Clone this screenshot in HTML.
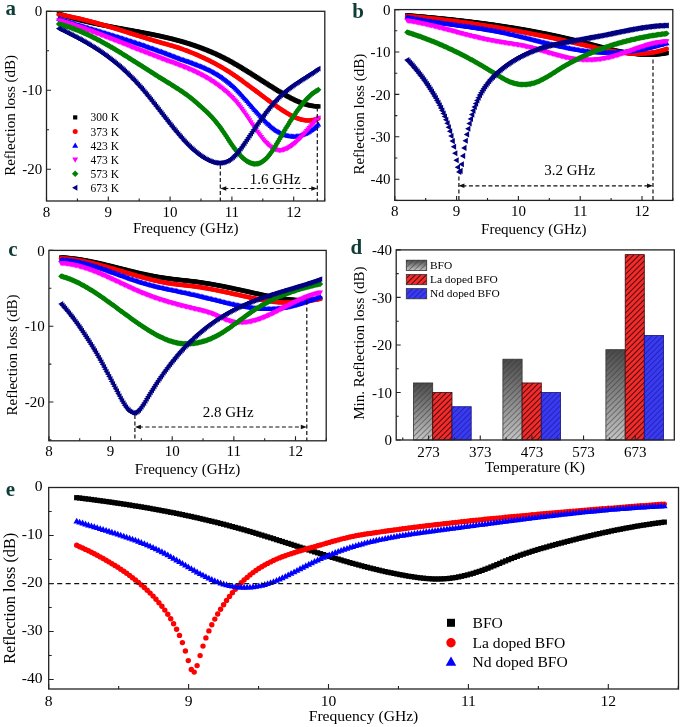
<!DOCTYPE html>
<html><head><meta charset="utf-8"><style>
html,body{margin:0;padding:0;background:#fff;}
svg{display:block;font-family:"Liberation Serif",serif;will-change:transform;}
</style></head><body>
<svg width="685" height="727" viewBox="0 0 685 727">
<defs><marker id="m_k" markerUnits="userSpaceOnUse" markerWidth="20" markerHeight="20" refX="10" refY="10" orient="0" overflow="visible"><rect x="7.85" y="7.85" width="4.30" height="4.30" fill="#000000"/></marker><marker id="m_r" markerUnits="userSpaceOnUse" markerWidth="20" markerHeight="20" refX="10" refY="10" orient="0" overflow="visible"><circle cx="10.00" cy="10.00" r="2.35" fill="#ff0000"/></marker><marker id="m_b" markerUnits="userSpaceOnUse" markerWidth="20" markerHeight="20" refX="10" refY="10" orient="0" overflow="visible"><path d="M10.00,7.07L12.80,12.04L7.20,12.04Z" fill="#0000ff"/></marker><marker id="m_m" markerUnits="userSpaceOnUse" markerWidth="20" markerHeight="20" refX="10" refY="10" orient="0" overflow="visible"><path d="M10.00,12.93L12.80,7.96L7.20,7.96Z" fill="#ff00ff"/></marker><marker id="m_g" markerUnits="userSpaceOnUse" markerWidth="20" markerHeight="20" refX="10" refY="10" orient="0" overflow="visible"><path d="M10.00,7.00L13.00,10.00L10.00,13.00L7.00,10.00Z" fill="#008000"/></marker><marker id="m_n" markerUnits="userSpaceOnUse" markerWidth="20" markerHeight="20" refX="10" refY="10" orient="0" overflow="visible"><path d="M7.01,10.00L12.08,7.14L12.08,12.86Z" fill="#000080"/></marker><marker id="mb_n" markerUnits="userSpaceOnUse" markerWidth="20" markerHeight="20" refX="10" refY="10" orient="0" overflow="visible"><path d="M6.84,10.00L12.20,6.97L12.20,13.03Z" fill="#000080"/></marker><marker id="e_k" markerUnits="userSpaceOnUse" markerWidth="20" markerHeight="20" refX="10" refY="10" orient="0" overflow="visible"><rect x="7.40" y="7.40" width="5.20" height="5.20" fill="#000"/></marker><marker id="e_r" markerUnits="userSpaceOnUse" markerWidth="20" markerHeight="20" refX="10" refY="10" orient="0" overflow="visible"><circle cx="10.00" cy="10.00" r="2.70" fill="#ff0000"/></marker><marker id="e_b" markerUnits="userSpaceOnUse" markerWidth="20" markerHeight="20" refX="10" refY="10" orient="0" overflow="visible"><path d="M10.00,6.55L13.30,12.40L6.70,12.40Z" fill="#0000ff"/></marker><linearGradient id="gg" x1="0" y1="0" x2="0" y2="1"><stop offset="0" stop-color="#4a4a4a"/><stop offset="1" stop-color="#c4c4c4"/></linearGradient><pattern id="hk" patternUnits="userSpaceOnUse" width="3.9" height="3.9" patternTransform="rotate(45)"><rect width="0.95" height="3.9" fill="#000" fill-opacity="0.72"/></pattern><pattern id="hg" patternUnits="userSpaceOnUse" width="3.9" height="3.9" patternTransform="rotate(45)"><rect width="0.9" height="3.9" fill="#333" fill-opacity="0.55"/></pattern><pattern id="hb" patternUnits="userSpaceOnUse" width="3.9" height="3.9" patternTransform="rotate(45)"><rect width="0.9" height="3.9" fill="#101080" fill-opacity="0.6"/></pattern></defs>
<rect width="685" height="727" fill="#fff"/>
<polyline points="58.9,13.8 60.2,14.2 61.5,14.7 62.8,15.1 64.1,15.5 65.3,15.9 66.6,16.3 67.9,16.7 69.2,17.1 70.5,17.5 71.8,17.8 73.1,18.2 74.4,18.6 75.7,18.9 77.0,19.3 78.3,19.6 79.6,19.9 80.9,20.3 82.2,20.6 83.5,20.9 84.8,21.2 86.1,21.5 87.4,21.8 88.7,22.1 90.0,22.4 91.3,22.7 92.6,23.0 93.9,23.3 95.2,23.6 96.5,23.8 97.8,24.1 99.1,24.4 100.4,24.7 101.7,24.9 103.0,25.2 104.3,25.4 105.6,25.7 106.9,25.9 108.2,26.2 109.5,26.4 110.8,26.7 112.1,26.9 113.4,27.2 114.7,27.4 116.0,27.7 117.3,27.9 118.6,28.1 119.9,28.4 121.2,28.6 122.5,28.8 123.8,29.1 125.0,29.3 126.3,29.6 127.6,29.8 128.9,30.0 130.2,30.3 131.5,30.5 132.8,30.7 134.1,31.0 135.4,31.2 136.7,31.4 138.0,31.7 139.3,31.9 140.6,32.2 141.9,32.4 143.2,32.7 144.5,32.9 145.8,33.2 147.1,33.4 148.4,33.7 149.7,33.9 151.0,34.2 152.3,34.4 153.6,34.7 154.9,35.0 156.2,35.3 157.5,35.5 158.8,35.8 160.1,36.1 161.4,36.4 162.7,36.7 164.0,37.0 165.3,37.3 166.6,37.6 167.9,37.9 169.2,38.2 170.5,38.5 171.8,38.8 173.1,39.2 174.4,39.5 175.7,39.9 177.0,40.2 178.3,40.6 179.6,40.9 180.9,41.3 182.2,41.6 183.4,42.0 184.7,42.4 186.0,42.8 187.3,43.2 188.6,43.6 189.9,44.0 191.2,44.4 192.5,44.9 193.8,45.3 195.1,45.7 196.4,46.2 197.7,46.7 199.0,47.1 200.3,47.6 201.6,48.1 202.9,48.6 204.2,49.1 205.5,49.6 206.8,50.1 208.1,50.6 209.4,51.2 210.7,51.7 212.0,52.3 213.3,52.9 214.6,53.4 215.9,54.0 217.2,54.6 218.5,55.2 219.8,55.9 221.1,56.5 222.4,57.1 223.7,57.8 225.0,58.5 226.3,59.1 227.6,59.8 228.9,60.5 230.2,61.2 231.5,61.9 232.8,62.7 234.1,63.4 235.4,64.2 236.7,64.9 238.0,65.7 239.3,66.4 240.6,67.2 241.8,68.0 243.1,68.8 244.4,69.6 245.7,70.4 247.0,71.2 248.3,72.0 249.6,72.8 250.9,73.6 252.2,74.4 253.5,75.3 254.8,76.1 256.1,76.9 257.4,77.7 258.7,78.6 260.0,79.4 261.3,80.2 262.6,81.1 263.9,81.9 265.2,82.7 266.5,83.5 267.8,84.4 269.1,85.2 270.4,86.0 271.7,86.8 273.0,87.6 274.3,88.4 275.6,89.3 276.9,90.1 278.2,90.9 279.5,91.6 280.8,92.4 282.1,93.2 283.4,94.0 284.7,94.7 286.0,95.5 287.3,96.2 288.6,96.9 289.9,97.6 291.2,98.3 292.5,98.9 293.8,99.6 295.1,100.2 296.4,100.8 297.7,101.4 299.0,101.9 300.3,102.5 301.5,102.9 302.8,103.4 304.1,103.9 305.4,104.3 306.7,104.6 308.0,105.0 309.3,105.3 310.6,105.6 311.9,105.8 313.2,106.0 314.5,106.2 315.8,106.3 317.1,106.4 318.4,106.4" fill="none" stroke="none" marker-start="url(#m_k)" marker-mid="url(#m_k)" marker-end="url(#m_k)"/>
<polyline points="58.9,14.6 60.2,14.8 61.5,15.0 62.8,15.2 64.1,15.5 65.3,15.7 66.6,16.0 67.9,16.2 69.2,16.5 70.5,16.7 71.8,17.0 73.1,17.3 74.4,17.5 75.7,17.8 77.0,18.1 78.3,18.4 79.6,18.7 80.9,19.0 82.2,19.3 83.5,19.6 84.8,20.0 86.1,20.3 87.4,20.6 88.7,21.0 90.0,21.3 91.3,21.6 92.6,22.0 93.9,22.3 95.2,22.7 96.5,23.1 97.8,23.4 99.1,23.8 100.4,24.2 101.7,24.5 103.0,24.9 104.3,25.3 105.6,25.7 106.9,26.0 108.2,26.4 109.5,26.8 110.8,27.2 112.1,27.6 113.4,28.0 114.7,28.4 116.0,28.8 117.3,29.2 118.6,29.6 119.9,30.0 121.2,30.4 122.5,30.8 123.8,31.2 125.0,31.6 126.3,32.0 127.6,32.4 128.9,32.8 130.2,33.3 131.5,33.7 132.8,34.1 134.1,34.5 135.4,34.9 136.7,35.3 138.0,35.7 139.3,36.1 140.6,36.5 141.9,36.9 143.2,37.3 144.5,37.7 145.8,38.1 147.1,38.5 148.4,38.9 149.7,39.3 151.0,39.7 152.3,40.1 153.6,40.5 154.9,40.9 156.2,41.3 157.5,41.6 158.8,42.0 160.1,42.4 161.4,42.8 162.7,43.1 164.0,43.5 165.3,43.9 166.6,44.2 167.9,44.6 169.2,45.0 170.5,45.4 171.8,45.7 173.1,46.1 174.4,46.5 175.7,46.9 177.0,47.3 178.3,47.7 179.6,48.2 180.9,48.6 182.2,49.0 183.4,49.5 184.7,50.0 186.0,50.4 187.3,50.9 188.6,51.4 189.9,52.0 191.2,52.5 192.5,53.0 193.8,53.5 195.1,54.1 196.4,54.7 197.7,55.2 199.0,55.8 200.3,56.4 201.6,57.0 202.9,57.6 204.2,58.2 205.5,58.8 206.8,59.4 208.1,60.0 209.4,60.7 210.7,61.3 212.0,62.0 213.3,62.7 214.6,63.3 215.9,64.0 217.2,64.8 218.5,65.5 219.8,66.2 221.1,67.0 222.4,67.7 223.7,68.5 225.0,69.3 226.3,70.1 227.6,70.9 228.9,71.7 230.2,72.6 231.5,73.4 232.8,74.3 234.1,75.2 235.4,76.0 236.7,76.9 238.0,77.8 239.3,78.8 240.6,79.7 241.8,80.6 243.1,81.6 244.4,82.5 245.7,83.5 247.0,84.4 248.3,85.4 249.6,86.3 250.9,87.3 252.2,88.3 253.5,89.2 254.8,90.2 256.1,91.2 257.4,92.2 258.7,93.1 260.0,94.1 261.3,95.1 262.6,96.1 263.9,97.0 265.2,98.0 266.5,99.0 267.8,99.9 269.1,100.9 270.4,101.8 271.7,102.8 273.0,103.7 274.3,104.7 275.6,105.6 276.9,106.5 278.2,107.4 279.5,108.3 280.8,109.2 282.1,110.1 283.4,110.9 284.7,111.7 286.0,112.6 287.3,113.3 288.6,114.1 289.9,114.8 291.2,115.5 292.5,116.2 293.8,116.8 295.1,117.4 296.4,117.9 297.7,118.4 299.0,118.9 300.3,119.3 301.5,119.6 302.8,119.9 304.1,120.1 305.4,120.3 306.7,120.4 308.0,120.5 309.3,120.5 310.6,120.4 311.9,120.2 313.2,120.0 314.5,119.7 315.8,119.4 317.1,118.9 318.4,118.4" fill="none" stroke="none" marker-start="url(#m_r)" marker-mid="url(#m_r)" marker-end="url(#m_r)"/>
<polyline points="58.9,18.8 60.2,19.2 61.5,19.6 62.8,20.0 64.1,20.5 65.3,20.9 66.6,21.3 67.9,21.7 69.2,22.1 70.5,22.5 71.8,22.9 73.1,23.3 74.4,23.8 75.7,24.2 77.0,24.6 78.3,25.0 79.6,25.4 80.9,25.8 82.2,26.2 83.5,26.6 84.8,27.0 86.1,27.4 87.4,27.8 88.7,28.2 90.0,28.6 91.3,29.0 92.6,29.4 93.9,29.8 95.2,30.1 96.5,30.5 97.8,30.9 99.1,31.3 100.4,31.7 101.7,32.1 103.0,32.5 104.3,32.9 105.6,33.3 106.9,33.7 108.2,34.1 109.5,34.5 110.8,34.9 112.1,35.3 113.4,35.7 114.7,36.1 116.0,36.5 117.3,36.9 118.6,37.3 119.9,37.7 121.2,38.1 122.5,38.5 123.8,39.0 125.0,39.4 126.3,39.8 127.6,40.2 128.9,40.6 130.2,41.0 131.5,41.5 132.8,41.9 134.1,42.3 135.4,42.7 136.7,43.2 138.0,43.6 139.3,44.0 140.6,44.5 141.9,44.9 143.2,45.3 144.5,45.8 145.8,46.2 147.1,46.7 148.4,47.1 149.7,47.6 151.0,48.1 152.3,48.5 153.6,49.0 154.9,49.4 156.2,49.9 157.5,50.4 158.8,50.9 160.1,51.4 161.4,51.8 162.7,52.3 164.0,52.8 165.3,53.3 166.6,53.8 167.9,54.3 169.2,54.8 170.5,55.3 171.8,55.8 173.1,56.3 174.4,56.7 175.7,57.2 177.0,57.7 178.3,58.2 179.6,58.6 180.9,59.1 182.2,59.6 183.4,60.0 184.7,60.5 186.0,60.9 187.3,61.4 188.6,61.8 189.9,62.3 191.2,62.8 192.5,63.2 193.8,63.7 195.1,64.2 196.4,64.6 197.7,65.1 199.0,65.6 200.3,66.2 201.6,66.7 202.9,67.2 204.2,67.8 205.5,68.4 206.8,68.9 208.1,69.6 209.4,70.2 210.7,70.8 212.0,71.5 213.3,72.2 214.6,72.9 215.9,73.6 217.2,74.4 218.5,75.2 219.8,76.0 221.1,76.9 222.4,77.7 223.7,78.7 225.0,79.6 226.3,80.6 227.6,81.6 228.9,82.6 230.2,83.7 231.5,84.9 232.8,86.0 234.1,87.2 235.4,88.5 236.7,89.7 238.0,91.1 239.3,92.4 240.6,93.8 241.8,95.2 243.1,96.6 244.4,98.1 245.7,99.5 247.0,101.0 248.3,102.5 249.6,103.9 250.9,105.4 252.2,106.9 253.5,108.4 254.8,109.9 256.1,111.4 257.4,112.8 258.7,114.2 260.0,115.7 261.3,117.1 262.6,118.4 263.9,119.8 265.2,121.1 266.5,122.4 267.8,123.6 269.1,124.8 270.4,126.0 271.7,127.1 273.0,128.1 274.3,129.1 275.6,130.1 276.9,130.9 278.2,131.8 279.5,132.5 280.8,133.2 282.1,133.8 283.4,134.4 284.7,134.9 286.0,135.3 287.3,135.6 288.6,135.9 289.9,136.2 291.2,136.3 292.5,136.4 293.8,136.5 295.1,136.4 296.4,136.3 297.7,136.1 299.0,135.9 300.3,135.6 301.5,135.2 302.8,134.8 304.1,134.3 305.4,133.7 306.7,133.1 308.0,132.4 309.3,131.6 310.6,130.8 311.9,129.9 313.2,128.9 314.5,127.9 315.8,126.8 317.1,125.6 318.4,124.4" fill="none" stroke="none" marker-start="url(#m_b)" marker-mid="url(#m_b)" marker-end="url(#m_b)"/>
<polyline points="58.9,20.4 60.2,20.8 61.5,21.2 62.8,21.6 64.1,22.0 65.3,22.4 66.6,22.8 67.9,23.2 69.2,23.6 70.5,24.0 71.8,24.4 73.1,24.8 74.4,25.2 75.7,25.7 77.0,26.1 78.3,26.5 79.6,27.0 80.9,27.4 82.2,27.9 83.5,28.3 84.8,28.8 86.1,29.3 87.4,29.7 88.7,30.2 90.0,30.6 91.3,31.1 92.6,31.6 93.9,32.1 95.2,32.6 96.5,33.0 97.8,33.5 99.1,34.0 100.4,34.5 101.7,35.0 103.0,35.5 104.3,36.0 105.6,36.5 106.9,37.0 108.2,37.5 109.5,38.0 110.8,38.5 112.1,39.0 113.4,39.5 114.7,40.0 116.0,40.5 117.3,41.0 118.6,41.5 119.9,42.0 121.2,42.6 122.5,43.1 123.8,43.6 125.0,44.1 126.3,44.6 127.6,45.1 128.9,45.6 130.2,46.2 131.5,46.7 132.8,47.2 134.1,47.7 135.4,48.2 136.7,48.7 138.0,49.2 139.3,49.8 140.6,50.3 141.9,50.8 143.2,51.3 144.5,51.8 145.8,52.3 147.1,52.8 148.4,53.3 149.7,53.8 151.0,54.3 152.3,54.8 153.6,55.3 154.9,55.8 156.2,56.3 157.5,56.8 158.8,57.3 160.1,57.8 161.4,58.3 162.7,58.8 164.0,59.3 165.3,59.7 166.6,60.2 167.9,60.7 169.2,61.2 170.5,61.6 171.8,62.1 173.1,62.6 174.4,63.1 175.7,63.6 177.0,64.1 178.3,64.5 179.6,65.0 180.9,65.5 182.2,66.0 183.4,66.6 184.7,67.1 186.0,67.6 187.3,68.1 188.6,68.7 189.9,69.3 191.2,69.8 192.5,70.4 193.8,71.0 195.1,71.6 196.4,72.2 197.7,72.9 199.0,73.5 200.3,74.2 201.6,74.9 202.9,75.6 204.2,76.3 205.5,77.0 206.8,77.8 208.1,78.5 209.4,79.3 210.7,80.2 212.0,81.0 213.3,81.9 214.6,82.7 215.9,83.7 217.2,84.6 218.5,85.6 219.8,86.5 221.1,87.6 222.4,88.6 223.7,89.7 225.0,90.8 226.3,91.9 227.6,93.1 228.9,94.3 230.2,95.5 231.5,96.8 232.8,98.1 234.1,99.5 235.4,100.9 236.7,102.4 238.0,104.0 239.3,105.6 240.6,107.2 241.8,109.0 243.1,110.8 244.4,112.6 245.7,114.5 247.0,116.4 248.3,118.3 249.6,120.3 250.9,122.2 252.2,124.2 253.5,126.1 254.8,128.0 256.1,129.9 257.4,131.8 258.7,133.6 260.0,135.4 261.3,137.1 262.6,138.7 263.9,140.3 265.2,141.7 266.5,143.1 267.8,144.4 269.1,145.6 270.4,146.6 271.7,147.5 273.0,148.3 274.3,149.0 275.6,149.5 276.9,149.9 278.2,150.1 279.5,150.2 280.8,150.2 282.1,150.0 283.4,149.8 284.7,149.4 286.0,148.9 287.3,148.3 288.6,147.6 289.9,146.8 291.2,146.0 292.5,145.1 293.8,144.0 295.1,143.0 296.4,141.8 297.7,140.6 299.0,139.4 300.3,138.1 301.5,136.7 302.8,135.3 304.1,133.9 305.4,132.5 306.7,131.0 308.0,129.5 309.3,128.0 310.6,126.5 311.9,125.0 313.2,123.5 314.5,122.0 315.8,120.5 317.1,119.1 318.4,117.7" fill="none" stroke="none" marker-start="url(#m_m)" marker-mid="url(#m_m)" marker-end="url(#m_m)"/>
<polyline points="58.9,24.1 60.2,24.4 61.5,24.7 62.8,25.1 64.1,25.5 65.3,25.9 66.6,26.3 67.9,26.7 69.2,27.1 70.5,27.6 71.8,28.0 73.1,28.5 74.4,29.0 75.7,29.5 77.0,30.0 78.3,30.5 79.6,31.0 80.9,31.6 82.2,32.2 83.5,32.7 84.8,33.3 86.1,33.9 87.4,34.5 88.7,35.1 90.0,35.7 91.3,36.4 92.6,37.0 93.9,37.7 95.2,38.3 96.5,39.0 97.8,39.7 99.1,40.3 100.4,41.0 101.7,41.7 103.0,42.4 104.3,43.2 105.6,43.9 106.9,44.6 108.2,45.4 109.5,46.1 110.8,46.9 112.1,47.6 113.4,48.4 114.7,49.1 116.0,49.9 117.3,50.7 118.6,51.5 119.9,52.3 121.2,53.1 122.5,53.9 123.8,54.7 125.0,55.5 126.3,56.3 127.6,57.1 128.9,57.9 130.2,58.7 131.5,59.5 132.8,60.4 134.1,61.2 135.4,62.0 136.7,62.8 138.0,63.7 139.3,64.5 140.6,65.3 141.9,66.1 143.2,67.0 144.5,67.8 145.8,68.6 147.1,69.5 148.4,70.3 149.7,71.1 151.0,72.0 152.3,72.8 153.6,73.6 154.9,74.4 156.2,75.3 157.5,76.1 158.8,76.9 160.1,77.7 161.4,78.5 162.7,79.3 164.0,80.1 165.3,80.9 166.6,81.7 167.9,82.5 169.2,83.3 170.5,84.1 171.8,84.9 173.1,85.7 174.4,86.5 175.7,87.4 177.0,88.2 178.3,89.0 179.6,89.9 180.9,90.7 182.2,91.6 183.4,92.5 184.7,93.4 186.0,94.3 187.3,95.3 188.6,96.2 189.9,97.2 191.2,98.3 192.5,99.3 193.8,100.4 195.1,101.5 196.4,102.6 197.7,103.8 199.0,104.9 200.3,106.1 201.6,107.2 202.9,108.4 204.2,109.6 205.5,110.8 206.8,112.0 208.1,113.3 209.4,114.5 210.7,115.9 212.0,117.3 213.3,118.7 214.6,120.2 215.9,121.7 217.2,123.4 218.5,125.0 219.8,126.8 221.1,128.6 222.4,130.4 223.7,132.3 225.0,134.3 226.3,136.3 227.6,138.3 228.9,140.3 230.2,142.3 231.5,144.2 232.8,146.1 234.1,147.9 235.4,149.6 236.7,151.3 238.0,152.8 239.3,154.3 240.6,155.7 241.8,157.0 243.1,158.2 244.4,159.3 245.7,160.3 247.0,161.2 248.3,162.0 249.6,162.6 250.9,163.1 252.2,163.5 253.5,163.8 254.8,163.9 256.1,163.8 257.4,163.7 258.7,163.4 260.0,162.9 261.3,162.3 262.6,161.5 263.9,160.6 265.2,159.5 266.5,158.2 267.8,156.8 269.1,155.2 270.4,153.5 271.7,151.7 273.0,149.8 274.3,147.8 275.6,145.7 276.9,143.5 278.2,141.3 279.5,139.1 280.8,136.9 282.1,134.7 283.4,132.5 284.7,130.3 286.0,128.1 287.3,126.0 288.6,123.9 289.9,121.8 291.2,119.8 292.5,117.8 293.8,115.8 295.1,113.9 296.4,112.0 297.7,110.2 299.0,108.4 300.3,106.7 301.5,105.1 302.8,103.5 304.1,101.9 305.4,100.4 306.7,99.0 308.0,97.7 309.3,96.4 310.6,95.2 311.9,94.1 313.2,93.1 314.5,92.2 315.8,91.3 317.1,90.5 318.4,89.8" fill="none" stroke="none" marker-start="url(#m_g)" marker-mid="url(#m_g)" marker-end="url(#m_g)"/>
<polyline points="58.9,28.6 60.2,29.3 61.5,29.9 62.8,30.5 64.1,31.2 65.3,31.8 66.6,32.5 67.9,33.1 69.2,33.8 70.5,34.4 71.8,35.1 73.1,35.8 74.4,36.5 75.7,37.1 77.0,37.8 78.3,38.5 79.6,39.2 80.9,39.9 82.2,40.7 83.5,41.4 84.8,42.1 86.1,42.9 87.4,43.6 88.7,44.4 90.0,45.2 91.3,46.0 92.6,46.8 93.9,47.6 95.2,48.4 96.5,49.2 97.8,50.1 99.1,50.9 100.4,51.8 101.7,52.7 103.0,53.6 104.3,54.5 105.6,55.4 106.9,56.3 108.2,57.3 109.5,58.3 110.8,59.3 112.1,60.3 113.4,61.3 114.7,62.3 116.0,63.4 117.3,64.5 118.6,65.6 119.9,66.7 121.2,67.8 122.5,68.9 123.8,70.1 125.0,71.3 126.3,72.5 127.6,73.7 128.9,75.0 130.2,76.3 131.5,77.6 132.8,78.9 134.1,80.2 135.4,81.6 136.7,83.0 138.0,84.4 139.3,85.8 140.6,87.3 141.9,88.7 143.2,90.2 144.5,91.8 145.8,93.3 147.1,94.9 148.4,96.5 149.7,98.1 151.0,99.7 152.3,101.3 153.6,103.0 154.9,104.6 156.2,106.3 157.5,107.9 158.8,109.6 160.1,111.3 161.4,112.9 162.7,114.6 164.0,116.3 165.3,117.9 166.6,119.6 167.9,121.3 169.2,122.9 170.5,124.5 171.8,126.2 173.1,127.8 174.4,129.4 175.7,130.9 177.0,132.5 178.3,134.0 179.6,135.6 180.9,137.1 182.2,138.5 183.4,140.0 184.7,141.4 186.0,142.8 187.3,144.1 188.6,145.5 189.9,146.8 191.2,148.0 192.5,149.2 193.8,150.4 195.1,151.5 196.4,152.6 197.7,153.7 199.0,154.7 200.3,155.7 201.6,156.6 202.9,157.4 204.2,158.2 205.5,159.0 206.8,159.7 208.1,160.3 209.4,160.9 210.7,161.4 212.0,161.9 213.3,162.3 214.6,162.6 215.9,162.8 217.2,162.9 218.5,163.0 219.8,163.0 221.1,162.9 222.4,162.7 223.7,162.4 225.0,162.0 226.3,161.5 227.6,160.9 228.9,160.2 230.2,159.3 231.5,158.4 232.8,157.3 234.1,156.1 235.4,154.8 236.7,153.4 238.0,151.9 239.3,150.3 240.6,148.6 241.8,146.9 243.1,145.1 244.4,143.3 245.7,141.4 247.0,139.5 248.3,137.6 249.6,135.6 250.9,133.7 252.2,131.7 253.5,129.8 254.8,127.9 256.1,126.0 257.4,124.1 258.7,122.3 260.0,120.4 261.3,118.6 262.6,116.8 263.9,115.1 265.2,113.3 266.5,111.6 267.8,110.0 269.1,108.3 270.4,106.7 271.7,105.2 273.0,103.6 274.3,102.1 275.6,100.7 276.9,99.3 278.2,98.0 279.5,96.7 280.8,95.4 282.1,94.2 283.4,93.0 284.7,91.9 286.0,90.8 287.3,89.8 288.6,88.7 289.9,87.7 291.2,86.8 292.5,85.8 293.8,84.9 295.1,84.0 296.4,83.1 297.7,82.3 299.0,81.4 300.3,80.6 301.5,79.7 302.8,78.9 304.1,78.1 305.4,77.3 306.7,76.4 308.0,75.6 309.3,74.8 310.6,74.0 311.9,73.1 313.2,72.3 314.5,71.4 315.8,70.5 317.1,69.6 318.4,68.7" fill="none" stroke="none" marker-start="url(#m_n)" marker-mid="url(#m_n)" marker-end="url(#m_n)"/>
<polyline points="407.2,15.3 408.5,15.5 409.8,15.6 411.1,15.7 412.4,15.8 413.6,15.9 414.9,16.0 416.2,16.1 417.5,16.2 418.8,16.4 420.1,16.5 421.4,16.6 422.7,16.7 424.0,16.8 425.3,16.9 426.6,17.1 427.9,17.2 429.2,17.3 430.5,17.4 431.8,17.6 433.1,17.7 434.4,17.8 435.7,17.9 437.0,18.1 438.3,18.2 439.6,18.3 440.9,18.5 442.2,18.6 443.5,18.7 444.8,18.9 446.1,19.0 447.4,19.1 448.7,19.3 450.0,19.4 451.3,19.5 452.6,19.7 453.9,19.8 455.2,20.0 456.5,20.1 457.8,20.3 459.1,20.4 460.4,20.6 461.7,20.7 463.0,20.9 464.3,21.0 465.6,21.2 466.9,21.3 468.2,21.5 469.5,21.6 470.8,21.8 472.1,22.0 473.3,22.1 474.6,22.3 475.9,22.4 477.2,22.6 478.5,22.8 479.8,23.0 481.1,23.1 482.4,23.3 483.7,23.5 485.0,23.6 486.3,23.8 487.6,24.0 488.9,24.2 490.2,24.4 491.5,24.5 492.8,24.7 494.1,24.9 495.4,25.1 496.7,25.3 498.0,25.5 499.3,25.7 500.6,25.9 501.9,26.1 503.2,26.3 504.5,26.5 505.8,26.7 507.1,26.9 508.4,27.1 509.7,27.3 511.0,27.5 512.3,27.7 513.6,27.9 514.9,28.1 516.2,28.3 517.5,28.6 518.8,28.8 520.1,29.0 521.4,29.2 522.7,29.4 524.0,29.7 525.3,29.9 526.6,30.1 527.9,30.4 529.2,30.6 530.5,30.8 531.7,31.1 533.0,31.3 534.3,31.6 535.6,31.8 536.9,32.1 538.2,32.3 539.5,32.6 540.8,32.8 542.1,33.1 543.4,33.3 544.7,33.6 546.0,33.8 547.3,34.1 548.6,34.4 549.9,34.7 551.2,34.9 552.5,35.2 553.8,35.5 555.1,35.8 556.4,36.0 557.7,36.3 559.0,36.6 560.3,36.9 561.6,37.2 562.9,37.5 564.2,37.8 565.5,38.1 566.8,38.4 568.1,38.7 569.4,39.0 570.7,39.3 572.0,39.6 573.3,39.9 574.6,40.2 575.9,40.5 577.2,40.8 578.5,41.2 579.8,41.5 581.1,41.8 582.4,42.2 583.7,42.5 585.0,42.8 586.3,43.2 587.6,43.5 588.9,43.8 590.1,44.2 591.4,44.5 592.7,44.9 594.0,45.2 595.3,45.5 596.6,45.9 597.9,46.2 599.2,46.6 600.5,46.9 601.8,47.2 603.1,47.6 604.4,47.9 605.7,48.2 607.0,48.5 608.3,48.9 609.6,49.2 610.9,49.5 612.2,49.8 613.5,50.1 614.8,50.4 616.1,50.7 617.4,50.9 618.7,51.2 620.0,51.5 621.3,51.7 622.6,52.0 623.9,52.2 625.2,52.5 626.5,52.7 627.8,52.9 629.1,53.1 630.4,53.3 631.7,53.5 633.0,53.6 634.3,53.8 635.6,53.9 636.9,54.1 638.2,54.2 639.5,54.3 640.8,54.4 642.1,54.5 643.4,54.6 644.7,54.6 646.0,54.7 647.3,54.7 648.6,54.7 649.8,54.7 651.1,54.7 652.4,54.6 653.7,54.6 655.0,54.5 656.3,54.4 657.6,54.3 658.9,54.2 660.2,54.0 661.5,53.9 662.8,53.7 664.1,53.5 665.4,53.3 666.7,53.0" fill="none" stroke="none" marker-start="url(#m_k)" marker-mid="url(#m_k)" marker-end="url(#m_k)"/>
<polyline points="407.2,16.2 408.5,16.3 409.8,16.4 411.1,16.5 412.4,16.6 413.6,16.7 414.9,16.8 416.2,17.0 417.5,17.1 418.8,17.2 420.1,17.3 421.4,17.4 422.7,17.6 424.0,17.7 425.3,17.8 426.6,18.0 427.9,18.1 429.2,18.2 430.5,18.4 431.8,18.5 433.1,18.6 434.4,18.8 435.7,18.9 437.0,19.1 438.3,19.2 439.6,19.4 440.9,19.5 442.2,19.7 443.5,19.8 444.8,20.0 446.1,20.1 447.4,20.3 448.7,20.5 450.0,20.6 451.3,20.8 452.6,20.9 453.9,21.1 455.2,21.3 456.5,21.4 457.8,21.6 459.1,21.8 460.4,22.0 461.7,22.1 463.0,22.3 464.3,22.5 465.6,22.7 466.9,22.9 468.2,23.0 469.5,23.2 470.8,23.4 472.1,23.6 473.3,23.8 474.6,24.0 475.9,24.2 477.2,24.4 478.5,24.6 479.8,24.8 481.1,25.0 482.4,25.2 483.7,25.4 485.0,25.6 486.3,25.8 487.6,26.0 488.9,26.2 490.2,26.4 491.5,26.6 492.8,26.8 494.1,27.0 495.4,27.2 496.7,27.4 498.0,27.7 499.3,27.9 500.6,28.1 501.9,28.3 503.2,28.5 504.5,28.8 505.8,29.0 507.1,29.2 508.4,29.5 509.7,29.7 511.0,29.9 512.3,30.1 513.6,30.4 514.9,30.6 516.2,30.9 517.5,31.1 518.8,31.3 520.1,31.6 521.4,31.8 522.7,32.1 524.0,32.3 525.3,32.6 526.6,32.8 527.9,33.1 529.2,33.3 530.5,33.6 531.7,33.8 533.0,34.1 534.3,34.3 535.6,34.6 536.9,34.8 538.2,35.1 539.5,35.4 540.8,35.6 542.1,35.9 543.4,36.1 544.7,36.4 546.0,36.7 547.3,36.9 548.6,37.2 549.9,37.5 551.2,37.8 552.5,38.0 553.8,38.3 555.1,38.6 556.4,38.9 557.7,39.1 559.0,39.4 560.3,39.7 561.6,40.0 562.9,40.3 564.2,40.6 565.5,40.8 566.8,41.1 568.1,41.4 569.4,41.7 570.7,42.0 572.0,42.3 573.3,42.6 574.6,42.9 575.9,43.2 577.2,43.5 578.5,43.8 579.8,44.1 581.1,44.4 582.4,44.7 583.7,45.0 585.0,45.3 586.3,45.6 587.6,45.9 588.9,46.2 590.1,46.5 591.4,46.8 592.7,47.1 594.0,47.4 595.3,47.7 596.6,48.0 597.9,48.3 599.2,48.6 600.5,48.9 601.8,49.1 603.1,49.4 604.4,49.7 605.7,50.0 607.0,50.2 608.3,50.5 609.6,50.7 610.9,51.0 612.2,51.2 613.5,51.4 614.8,51.6 616.1,51.8 617.4,52.0 618.7,52.2 620.0,52.4 621.3,52.6 622.6,52.7 623.9,52.9 625.2,53.0 626.5,53.2 627.8,53.3 629.1,53.4 630.4,53.5 631.7,53.5 633.0,53.6 634.3,53.6 635.6,53.7 636.9,53.7 638.2,53.7 639.5,53.7 640.8,53.6 642.1,53.6 643.4,53.5 644.7,53.4 646.0,53.3 647.3,53.2 648.6,53.1 649.8,52.9 651.1,52.7 652.4,52.5 653.7,52.3 655.0,52.1 656.3,51.8 657.6,51.5 658.9,51.2 660.2,50.9 661.5,50.6 662.8,50.2 664.1,49.8 665.4,49.4 666.7,48.9" fill="none" stroke="none" marker-start="url(#m_r)" marker-mid="url(#m_r)" marker-end="url(#m_r)"/>
<polyline points="407.2,17.3 408.5,17.6 409.8,17.9 411.1,18.1 412.4,18.4 413.6,18.6 414.9,18.9 416.2,19.1 417.5,19.3 418.8,19.6 420.1,19.8 421.4,20.0 422.7,20.2 424.0,20.4 425.3,20.7 426.6,20.9 427.9,21.1 429.2,21.3 430.5,21.5 431.8,21.7 433.1,21.9 434.4,22.1 435.7,22.3 437.0,22.5 438.3,22.7 439.6,22.8 440.9,23.0 442.2,23.2 443.5,23.4 444.8,23.6 446.1,23.8 447.4,24.0 448.7,24.1 450.0,24.3 451.3,24.5 452.6,24.7 453.9,24.9 455.2,25.0 456.5,25.2 457.8,25.4 459.1,25.6 460.4,25.8 461.7,25.9 463.0,26.1 464.3,26.3 465.6,26.5 466.9,26.7 468.2,26.8 469.5,27.0 470.8,27.2 472.1,27.4 473.3,27.6 474.6,27.8 475.9,28.0 477.2,28.2 478.5,28.4 479.8,28.6 481.1,28.8 482.4,29.0 483.7,29.2 485.0,29.4 486.3,29.6 487.6,29.8 488.9,30.1 490.2,30.3 491.5,30.5 492.8,30.7 494.1,31.0 495.4,31.2 496.7,31.5 498.0,31.7 499.3,31.9 500.6,32.2 501.9,32.5 503.2,32.7 504.5,33.0 505.8,33.3 507.1,33.5 508.4,33.8 509.7,34.1 511.0,34.4 512.3,34.7 513.6,35.0 514.9,35.3 516.2,35.6 517.5,35.9 518.8,36.2 520.1,36.5 521.4,36.9 522.7,37.2 524.0,37.5 525.3,37.8 526.6,38.1 527.9,38.5 529.2,38.8 530.5,39.1 531.7,39.4 533.0,39.8 534.3,40.1 535.6,40.4 536.9,40.8 538.2,41.1 539.5,41.4 540.8,41.7 542.1,42.1 543.4,42.4 544.7,42.7 546.0,43.0 547.3,43.4 548.6,43.7 549.9,44.0 551.2,44.3 552.5,44.6 553.8,44.9 555.1,45.2 556.4,45.5 557.7,45.8 559.0,46.1 560.3,46.4 561.6,46.7 562.9,47.0 564.2,47.3 565.5,47.5 566.8,47.8 568.1,48.1 569.4,48.3 570.7,48.6 572.0,48.8 573.3,49.1 574.6,49.3 575.9,49.5 577.2,49.8 578.5,50.0 579.8,50.2 581.1,50.4 582.4,50.6 583.7,50.8 585.0,50.9 586.3,51.1 587.6,51.3 588.9,51.4 590.1,51.6 591.4,51.7 592.7,51.8 594.0,52.0 595.3,52.1 596.6,52.2 597.9,52.3 599.2,52.3 600.5,52.4 601.8,52.5 603.1,52.5 604.4,52.6 605.7,52.6 607.0,52.7 608.3,52.7 609.6,52.7 610.9,52.7 612.2,52.7 613.5,52.6 614.8,52.6 616.1,52.6 617.4,52.5 618.7,52.4 620.0,52.4 621.3,52.3 622.6,52.2 623.9,52.1 625.2,51.9 626.5,51.8 627.8,51.7 629.1,51.5 630.4,51.3 631.7,51.2 633.0,51.0 634.3,50.8 635.6,50.6 636.9,50.3 638.2,50.1 639.5,49.9 640.8,49.6 642.1,49.4 643.4,49.1 644.7,48.8 646.0,48.6 647.3,48.3 648.6,48.0 649.8,47.7 651.1,47.4 652.4,47.0 653.7,46.7 655.0,46.4 656.3,46.0 657.6,45.7 658.9,45.3 660.2,45.0 661.5,44.6 662.8,44.2 664.1,43.8 665.4,43.4 666.7,43.1" fill="none" stroke="none" marker-start="url(#m_b)" marker-mid="url(#m_b)" marker-end="url(#m_b)"/>
<polyline points="407.2,20.5 408.5,20.7 409.8,21.0 411.1,21.2 412.4,21.4 413.6,21.7 414.9,21.9 416.2,22.2 417.5,22.4 418.8,22.7 420.1,23.0 421.4,23.2 422.7,23.5 424.0,23.8 425.3,24.1 426.6,24.4 427.9,24.7 429.2,25.0 430.5,25.3 431.8,25.6 433.1,25.9 434.4,26.2 435.7,26.6 437.0,26.9 438.3,27.2 439.6,27.5 440.9,27.9 442.2,28.2 443.5,28.6 444.8,28.9 446.1,29.2 447.4,29.6 448.7,29.9 450.0,30.3 451.3,30.6 452.6,30.9 453.9,31.3 455.2,31.6 456.5,32.0 457.8,32.3 459.1,32.7 460.4,33.0 461.7,33.3 463.0,33.7 464.3,34.0 465.6,34.3 466.9,34.7 468.2,35.0 469.5,35.3 470.8,35.7 472.1,36.0 473.3,36.3 474.6,36.6 475.9,36.9 477.2,37.3 478.5,37.6 479.8,37.9 481.1,38.2 482.4,38.4 483.7,38.7 485.0,39.0 486.3,39.3 487.6,39.6 488.9,39.8 490.2,40.1 491.5,40.3 492.8,40.6 494.1,40.8 495.4,41.1 496.7,41.3 498.0,41.5 499.3,41.7 500.6,41.9 501.9,42.2 503.2,42.4 504.5,42.6 505.8,42.8 507.1,43.0 508.4,43.2 509.7,43.4 511.0,43.6 512.3,43.8 513.6,44.0 514.9,44.2 516.2,44.4 517.5,44.7 518.8,44.9 520.1,45.1 521.4,45.4 522.7,45.6 524.0,45.9 525.3,46.2 526.6,46.5 527.9,46.8 529.2,47.1 530.5,47.4 531.7,47.7 533.0,48.1 534.3,48.4 535.6,48.8 536.9,49.1 538.2,49.5 539.5,49.9 540.8,50.3 542.1,50.7 543.4,51.0 544.7,51.4 546.0,51.8 547.3,52.2 548.6,52.6 549.9,53.0 551.2,53.4 552.5,53.8 553.8,54.1 555.1,54.5 556.4,54.9 557.7,55.2 559.0,55.6 560.3,55.9 561.6,56.3 562.9,56.6 564.2,56.9 565.5,57.2 566.8,57.5 568.1,57.8 569.4,58.0 570.7,58.3 572.0,58.5 573.3,58.7 574.6,58.9 575.9,59.1 577.2,59.3 578.5,59.4 579.8,59.5 581.1,59.6 582.4,59.7 583.7,59.8 585.0,59.8 586.3,59.9 587.6,59.9 588.9,59.9 590.1,59.8 591.4,59.8 592.7,59.7 594.0,59.7 595.3,59.6 596.6,59.4 597.9,59.3 599.2,59.2 600.5,59.0 601.8,58.8 603.1,58.6 604.4,58.4 605.7,58.1 607.0,57.9 608.3,57.6 609.6,57.3 610.9,57.0 612.2,56.6 613.5,56.3 614.8,55.9 616.1,55.5 617.4,55.1 618.7,54.7 620.0,54.3 621.3,53.9 622.6,53.4 623.9,53.0 625.2,52.5 626.5,52.1 627.8,51.6 629.1,51.2 630.4,50.7 631.7,50.2 633.0,49.8 634.3,49.3 635.6,48.8 636.9,48.4 638.2,47.9 639.5,47.5 640.8,47.0 642.1,46.6 643.4,46.2 644.7,45.7 646.0,45.3 647.3,44.9 648.6,44.6 649.8,44.2 651.1,43.9 652.4,43.5 653.7,43.2 655.0,42.9 656.3,42.7 657.6,42.4 658.9,42.2 660.2,42.0 661.5,41.8 662.8,41.7 664.1,41.5 665.4,41.4 666.7,41.4" fill="none" stroke="none" marker-start="url(#m_m)" marker-mid="url(#m_m)" marker-end="url(#m_m)"/>
<polyline points="407.2,32.3 408.5,32.7 409.8,33.1 411.1,33.5 412.4,33.9 413.6,34.3 414.9,34.8 416.2,35.2 417.5,35.7 418.8,36.1 420.1,36.6 421.4,37.0 422.7,37.5 424.0,38.0 425.3,38.5 426.6,39.0 427.9,39.4 429.2,40.0 430.5,40.5 431.8,41.0 433.1,41.5 434.4,42.0 435.7,42.6 437.0,43.1 438.3,43.7 439.6,44.2 440.9,44.8 442.2,45.3 443.5,45.9 444.8,46.5 446.1,47.1 447.4,47.7 448.7,48.3 450.0,48.9 451.3,49.5 452.6,50.1 453.9,50.7 455.2,51.4 456.5,52.0 457.8,52.6 459.1,53.3 460.4,54.0 461.7,54.6 463.0,55.3 464.3,56.0 465.6,56.6 466.9,57.3 468.2,58.0 469.5,58.7 470.8,59.4 472.1,60.1 473.3,60.8 474.6,61.6 475.9,62.3 477.2,63.0 478.5,63.8 479.8,64.5 481.1,65.3 482.4,66.0 483.7,66.8 485.0,67.6 486.3,68.4 487.6,69.1 488.9,69.9 490.2,70.7 491.5,71.5 492.8,72.3 494.1,73.1 495.4,74.0 496.7,74.8 498.0,75.5 499.3,76.3 500.6,77.1 501.9,77.8 503.2,78.6 504.5,79.3 505.8,79.9 507.1,80.6 508.4,81.2 509.7,81.7 511.0,82.2 512.3,82.7 513.6,83.1 514.9,83.5 516.2,83.8 517.5,84.0 518.8,84.2 520.1,84.4 521.4,84.5 522.7,84.6 524.0,84.6 525.3,84.5 526.6,84.5 527.9,84.3 529.2,84.1 530.5,83.9 531.7,83.6 533.0,83.3 534.3,82.9 535.6,82.5 536.9,82.0 538.2,81.5 539.5,80.9 540.8,80.3 542.1,79.6 543.4,79.0 544.7,78.2 546.0,77.5 547.3,76.7 548.6,76.0 549.9,75.2 551.2,74.4 552.5,73.5 553.8,72.7 555.1,71.9 556.4,71.1 557.7,70.2 559.0,69.4 560.3,68.6 561.6,67.8 562.9,67.0 564.2,66.3 565.5,65.5 566.8,64.8 568.1,64.0 569.4,63.3 570.7,62.6 572.0,61.9 573.3,61.2 574.6,60.5 575.9,59.9 577.2,59.2 578.5,58.6 579.8,58.0 581.1,57.3 582.4,56.7 583.7,56.1 585.0,55.5 586.3,55.0 587.6,54.4 588.9,53.8 590.1,53.3 591.4,52.7 592.7,52.2 594.0,51.7 595.3,51.1 596.6,50.6 597.9,50.1 599.2,49.6 600.5,49.2 601.8,48.7 603.1,48.2 604.4,47.7 605.7,47.3 607.0,46.8 608.3,46.4 609.6,46.0 610.9,45.6 612.2,45.1 613.5,44.7 614.8,44.3 616.1,43.9 617.4,43.5 618.7,43.2 620.0,42.8 621.3,42.4 622.6,42.1 623.9,41.7 625.2,41.4 626.5,41.0 627.8,40.7 629.1,40.4 630.4,40.1 631.7,39.8 633.0,39.5 634.3,39.2 635.6,38.9 636.9,38.6 638.2,38.3 639.5,38.0 640.8,37.8 642.1,37.5 643.4,37.2 644.7,37.0 646.0,36.7 647.3,36.5 648.6,36.3 649.8,36.0 651.1,35.8 652.4,35.6 653.7,35.4 655.0,35.2 656.3,35.0 657.6,34.8 658.9,34.6 660.2,34.4 661.5,34.2 662.8,34.0 664.1,33.9 665.4,33.7 666.7,33.5" fill="none" stroke="none" marker-start="url(#m_g)" marker-mid="url(#m_g)" marker-end="url(#m_g)"/>
<polyline points="407.2,60.0 408.5,61.3 409.8,62.7 411.1,64.1 412.4,65.5 413.6,67.0 414.9,68.5 416.2,70.0 417.5,71.6 418.8,73.2 420.1,74.9 421.4,76.5 422.7,78.3 424.0,80.0 425.3,81.8 426.6,83.7 427.9,85.6 429.2,87.6 430.5,89.6 431.8,91.6 433.1,93.7 434.4,95.9 435.7,98.1 437.0,100.5 438.3,102.8 439.6,105.3 440.9,107.9 442.2,110.6 443.5,113.5 444.8,116.5 446.1,119.8 447.4,123.3 448.7,127.2 450.0,131.3 451.3,136.0 452.6,141.1 453.9,146.8 455.2,153.2 456.5,160.2 457.8,167.3 459.1,172.0 460.4,170.9 461.7,164.3 463.0,155.9 464.3,147.9 465.6,140.7 466.9,134.4 468.2,128.7 469.5,123.5 470.8,118.9 472.1,114.6 473.3,110.6 474.6,106.9 475.9,103.6 477.2,100.5 478.5,97.7 479.8,95.1 481.1,92.7 482.4,90.5 483.7,88.4 485.0,86.5 486.3,84.7 487.6,83.0 488.9,81.3 490.2,79.8 491.5,78.3 492.8,76.9 494.1,75.6 495.4,74.3 496.7,73.0 498.0,71.8 499.3,70.7 500.6,69.6 501.9,68.5 503.2,67.4 504.5,66.4 505.8,65.5 507.1,64.5 508.4,63.6 509.7,62.7 511.0,61.9 512.3,61.0 513.6,60.2 514.9,59.4 516.2,58.7 517.5,57.9 518.8,57.2 520.1,56.5 521.4,55.9 522.7,55.2 524.0,54.6 525.3,54.0 526.6,53.4 527.9,52.8 529.2,52.2 530.5,51.7 531.7,51.2 533.0,50.7 534.3,50.2 535.6,49.7 536.9,49.3 538.2,48.8 539.5,48.4 540.8,48.0 542.1,47.6 543.4,47.2 544.7,46.8 546.0,46.5 547.3,46.1 548.6,45.8 549.9,45.4 551.2,45.1 552.5,44.8 553.8,44.5 555.1,44.2 556.4,43.9 557.7,43.7 559.0,43.4 560.3,43.1 561.6,42.9 562.9,42.6 564.2,42.4 565.5,42.1 566.8,41.9 568.1,41.6 569.4,41.4 570.7,41.1 572.0,40.9 573.3,40.7 574.6,40.4 575.9,40.2 577.2,40.0 578.5,39.7 579.8,39.5 581.1,39.3 582.4,39.0 583.7,38.8 585.0,38.6 586.3,38.3 587.6,38.1 588.9,37.9 590.1,37.6 591.4,37.4 592.7,37.2 594.0,36.9 595.3,36.7 596.6,36.4 597.9,36.2 599.2,36.0 600.5,35.7 601.8,35.5 603.1,35.2 604.4,35.0 605.7,34.7 607.0,34.4 608.3,34.2 609.6,33.9 610.9,33.6 612.2,33.4 613.5,33.1 614.8,32.8 616.1,32.6 617.4,32.3 618.7,32.0 620.0,31.8 621.3,31.5 622.6,31.2 623.9,31.0 625.2,30.7 626.5,30.4 627.8,30.2 629.1,29.9 630.4,29.7 631.7,29.4 633.0,29.2 634.3,29.0 635.6,28.7 636.9,28.5 638.2,28.3 639.5,28.1 640.8,27.9 642.1,27.7 643.4,27.5 644.7,27.3 646.0,27.2 647.3,27.0 648.6,26.8 649.8,26.7 651.1,26.5 652.4,26.4 653.7,26.3 655.0,26.1 656.3,26.0 657.6,25.9 658.9,25.8 660.2,25.7 661.5,25.7 662.8,25.6 664.1,25.5 665.4,25.5 666.7,25.5" fill="none" stroke="none" marker-start="url(#mb_n)" marker-mid="url(#mb_n)" marker-end="url(#mb_n)"/>
<polyline points="61.2,257.5 62.5,257.5 63.8,257.6 65.1,257.7 66.4,257.8 67.7,257.9 69.0,258.1 70.3,258.2 71.6,258.4 72.9,258.5 74.2,258.7 75.5,258.8 76.8,259.0 78.1,259.2 79.4,259.4 80.6,259.6 81.9,259.8 83.2,260.1 84.5,260.3 85.8,260.5 87.1,260.8 88.4,261.0 89.7,261.3 91.0,261.6 92.3,261.8 93.6,262.1 94.9,262.4 96.2,262.7 97.5,262.9 98.8,263.2 100.1,263.5 101.4,263.8 102.7,264.1 104.0,264.4 105.2,264.8 106.5,265.1 107.8,265.4 109.1,265.7 110.4,266.0 111.7,266.3 113.0,266.7 114.3,267.0 115.6,267.3 116.9,267.7 118.2,268.0 119.5,268.3 120.8,268.6 122.1,269.0 123.4,269.3 124.7,269.6 126.0,269.9 127.3,270.3 128.6,270.6 129.8,270.9 131.1,271.2 132.4,271.5 133.7,271.8 135.0,272.2 136.3,272.5 137.6,272.8 138.9,273.1 140.2,273.4 141.5,273.7 142.8,273.9 144.1,274.2 145.4,274.5 146.7,274.8 148.0,275.0 149.3,275.3 150.6,275.6 151.9,275.8 153.2,276.1 154.4,276.3 155.7,276.5 157.0,276.8 158.3,277.0 159.6,277.2 160.9,277.4 162.2,277.6 163.5,277.8 164.8,278.0 166.1,278.2 167.4,278.4 168.7,278.6 170.0,278.7 171.3,278.9 172.6,279.1 173.9,279.2 175.2,279.4 176.5,279.5 177.7,279.7 179.0,279.8 180.3,280.0 181.6,280.1 182.9,280.2 184.2,280.4 185.5,280.5 186.8,280.7 188.1,280.8 189.4,281.0 190.7,281.1 192.0,281.3 193.3,281.4 194.6,281.6 195.9,281.7 197.2,281.9 198.5,282.1 199.8,282.3 201.1,282.5 202.3,282.7 203.6,282.9 204.9,283.1 206.2,283.3 207.5,283.5 208.8,283.7 210.1,283.9 211.4,284.2 212.7,284.4 214.0,284.6 215.3,284.9 216.6,285.1 217.9,285.3 219.2,285.6 220.5,285.8 221.8,286.1 223.1,286.3 224.4,286.6 225.7,286.9 226.9,287.1 228.2,287.4 229.5,287.7 230.8,287.9 232.1,288.2 233.4,288.5 234.7,288.8 236.0,289.1 237.3,289.3 238.6,289.6 239.9,289.9 241.2,290.2 242.5,290.5 243.8,290.8 245.1,291.0 246.4,291.3 247.7,291.6 249.0,291.9 250.2,292.2 251.5,292.5 252.8,292.8 254.1,293.1 255.4,293.4 256.7,293.6 258.0,293.9 259.3,294.2 260.6,294.5 261.9,294.8 263.2,295.1 264.5,295.3 265.8,295.6 267.1,295.9 268.4,296.2 269.7,296.4 271.0,296.7 272.3,296.9 273.6,297.2 274.8,297.4 276.1,297.6 277.4,297.9 278.7,298.1 280.0,298.3 281.3,298.5 282.6,298.7 283.9,298.9 285.2,299.0 286.5,299.2 287.8,299.3 289.1,299.5 290.4,299.6 291.7,299.7 293.0,299.8 294.3,299.9 295.6,300.0 296.9,300.1 298.2,300.1 299.4,300.2 300.7,300.2 302.0,300.2 303.3,300.2 304.6,300.1 305.9,300.1 307.2,300.0 308.5,300.0 309.8,299.9 311.1,299.8 312.4,299.6 313.7,299.5 315.0,299.3 316.3,299.1 317.6,298.9 318.9,298.7 320.2,298.4" fill="none" stroke="none" marker-start="url(#m_k)" marker-mid="url(#m_k)" marker-end="url(#m_k)"/>
<polyline points="61.2,258.3 62.5,258.4 63.8,258.5 65.1,258.6 66.4,258.7 67.7,258.8 69.0,259.0 70.3,259.1 71.6,259.3 72.9,259.5 74.2,259.6 75.5,259.8 76.8,260.0 78.1,260.3 79.4,260.5 80.6,260.7 81.9,260.9 83.2,261.2 84.5,261.5 85.8,261.7 87.1,262.0 88.4,262.3 89.7,262.6 91.0,262.9 92.3,263.2 93.6,263.5 94.9,263.8 96.2,264.1 97.5,264.4 98.8,264.8 100.1,265.1 101.4,265.5 102.7,265.8 104.0,266.2 105.2,266.5 106.5,266.9 107.8,267.3 109.1,267.6 110.4,268.0 111.7,268.4 113.0,268.7 114.3,269.1 115.6,269.5 116.9,269.9 118.2,270.3 119.5,270.6 120.8,271.0 122.1,271.4 123.4,271.8 124.7,272.2 126.0,272.6 127.3,273.0 128.6,273.3 129.8,273.7 131.1,274.1 132.4,274.5 133.7,274.9 135.0,275.2 136.3,275.6 137.6,276.0 138.9,276.4 140.2,276.7 141.5,277.1 142.8,277.4 144.1,277.8 145.4,278.1 146.7,278.5 148.0,278.8 149.3,279.2 150.6,279.5 151.9,279.8 153.2,280.1 154.4,280.4 155.7,280.7 157.0,281.0 158.3,281.3 159.6,281.6 160.9,281.9 162.2,282.1 163.5,282.4 164.8,282.6 166.1,282.9 167.4,283.1 168.7,283.3 170.0,283.5 171.3,283.7 172.6,283.9 173.9,284.1 175.2,284.2 176.5,284.4 177.7,284.6 179.0,284.7 180.3,284.9 181.6,285.0 182.9,285.1 184.2,285.3 185.5,285.4 186.8,285.6 188.1,285.7 189.4,285.9 190.7,286.0 192.0,286.2 193.3,286.3 194.6,286.5 195.9,286.7 197.2,286.9 198.5,287.1 199.8,287.2 201.1,287.4 202.3,287.7 203.6,287.9 204.9,288.1 206.2,288.3 207.5,288.5 208.8,288.8 210.1,289.0 211.4,289.3 212.7,289.5 214.0,289.8 215.3,290.0 216.6,290.3 217.9,290.5 219.2,290.8 220.5,291.1 221.8,291.3 223.1,291.6 224.4,291.9 225.7,292.2 226.9,292.4 228.2,292.7 229.5,293.0 230.8,293.3 232.1,293.6 233.4,293.9 234.7,294.2 236.0,294.4 237.3,294.7 238.6,295.0 239.9,295.3 241.2,295.6 242.5,295.9 243.8,296.2 245.1,296.5 246.4,296.7 247.7,297.0 249.0,297.3 250.2,297.6 251.5,297.9 252.8,298.1 254.1,298.4 255.4,298.7 256.7,298.9 258.0,299.2 259.3,299.5 260.6,299.7 261.9,300.0 263.2,300.2 264.5,300.4 265.8,300.6 267.1,300.9 268.4,301.1 269.7,301.3 271.0,301.5 272.3,301.6 273.6,301.8 274.8,301.9 276.1,302.1 277.4,302.2 278.7,302.3 280.0,302.4 281.3,302.5 282.6,302.5 283.9,302.6 285.2,302.6 286.5,302.6 287.8,302.7 289.1,302.6 290.4,302.6 291.7,302.6 293.0,302.5 294.3,302.5 295.6,302.4 296.9,302.3 298.2,302.2 299.4,302.1 300.7,302.0 302.0,301.8 303.3,301.7 304.6,301.5 305.9,301.3 307.2,301.2 308.5,301.0 309.8,300.8 311.1,300.6 312.4,300.3 313.7,300.1 315.0,299.9 316.3,299.6 317.6,299.4 318.9,299.1 320.2,298.8" fill="none" stroke="none" marker-start="url(#m_r)" marker-mid="url(#m_r)" marker-end="url(#m_r)"/>
<polyline points="61.2,259.9 62.5,260.0 63.8,260.1 65.1,260.2 66.4,260.3 67.7,260.4 69.0,260.6 70.3,260.7 71.6,260.9 72.9,261.1 74.2,261.3 75.5,261.5 76.8,261.8 78.1,262.0 79.4,262.3 80.6,262.6 81.9,262.9 83.2,263.2 84.5,263.5 85.8,263.8 87.1,264.2 88.4,264.5 89.7,264.9 91.0,265.2 92.3,265.6 93.6,266.0 94.9,266.4 96.2,266.8 97.5,267.2 98.8,267.6 100.1,268.1 101.4,268.5 102.7,268.9 104.0,269.4 105.2,269.8 106.5,270.3 107.8,270.7 109.1,271.2 110.4,271.6 111.7,272.1 113.0,272.6 114.3,273.0 115.6,273.5 116.9,274.0 118.2,274.5 119.5,274.9 120.8,275.4 122.1,275.9 123.4,276.3 124.7,276.8 126.0,277.3 127.3,277.7 128.6,278.2 129.8,278.6 131.1,279.1 132.4,279.5 133.7,280.0 135.0,280.4 136.3,280.8 137.6,281.3 138.9,281.7 140.2,282.1 141.5,282.5 142.8,282.9 144.1,283.3 145.4,283.7 146.7,284.0 148.0,284.4 149.3,284.8 150.6,285.1 151.9,285.4 153.2,285.8 154.4,286.1 155.7,286.4 157.0,286.7 158.3,287.1 159.6,287.4 160.9,287.7 162.2,288.0 163.5,288.3 164.8,288.6 166.1,288.8 167.4,289.1 168.7,289.4 170.0,289.7 171.3,290.0 172.6,290.2 173.9,290.5 175.2,290.8 176.5,291.0 177.7,291.3 179.0,291.6 180.3,291.9 181.6,292.1 182.9,292.4 184.2,292.7 185.5,293.0 186.8,293.2 188.1,293.5 189.4,293.8 190.7,294.1 192.0,294.4 193.3,294.7 194.6,294.9 195.9,295.2 197.2,295.5 198.5,295.9 199.8,296.2 201.1,296.5 202.3,296.8 203.6,297.1 204.9,297.4 206.2,297.8 207.5,298.1 208.8,298.4 210.1,298.7 211.4,299.0 212.7,299.4 214.0,299.7 215.3,300.0 216.6,300.3 217.9,300.7 219.2,301.0 220.5,301.3 221.8,301.6 223.1,301.9 224.4,302.3 225.7,302.6 226.9,302.9 228.2,303.2 229.5,303.5 230.8,303.8 232.1,304.1 233.4,304.3 234.7,304.6 236.0,304.9 237.3,305.2 238.6,305.4 239.9,305.7 241.2,305.9 242.5,306.2 243.8,306.4 245.1,306.6 246.4,306.8 247.7,307.1 249.0,307.3 250.2,307.4 251.5,307.6 252.8,307.8 254.1,308.0 255.4,308.1 256.7,308.3 258.0,308.4 259.3,308.5 260.6,308.6 261.9,308.7 263.2,308.8 264.5,308.8 265.8,308.9 267.1,308.9 268.4,309.0 269.7,309.0 271.0,308.9 272.3,308.9 273.6,308.9 274.8,308.8 276.1,308.7 277.4,308.6 278.7,308.5 280.0,308.3 281.3,308.2 282.6,308.0 283.9,307.8 285.2,307.6 286.5,307.3 287.8,307.1 289.1,306.8 290.4,306.5 291.7,306.2 293.0,305.8 294.3,305.5 295.6,305.1 296.9,304.8 298.2,304.4 299.4,304.0 300.7,303.6 302.0,303.2 303.3,302.8 304.6,302.3 305.9,301.9 307.2,301.4 308.5,301.0 309.8,300.5 311.1,300.0 312.4,299.6 313.7,299.1 315.0,298.6 316.3,298.1 317.6,297.6 318.9,297.1 320.2,296.6" fill="none" stroke="none" marker-start="url(#m_b)" marker-mid="url(#m_b)" marker-end="url(#m_b)"/>
<polyline points="61.2,263.2 62.5,263.2 63.8,263.3 65.1,263.5 66.4,263.6 67.7,263.8 69.0,264.0 70.3,264.2 71.6,264.4 72.9,264.7 74.2,265.0 75.5,265.3 76.8,265.6 78.1,265.9 79.4,266.2 80.6,266.6 81.9,267.0 83.2,267.4 84.5,267.8 85.8,268.2 87.1,268.6 88.4,269.1 89.7,269.6 91.0,270.0 92.3,270.5 93.6,271.0 94.9,271.5 96.2,272.0 97.5,272.6 98.8,273.1 100.1,273.7 101.4,274.2 102.7,274.8 104.0,275.4 105.2,275.9 106.5,276.5 107.8,277.1 109.1,277.7 110.4,278.3 111.7,278.9 113.0,279.5 114.3,280.1 115.6,280.7 116.9,281.3 118.2,281.9 119.5,282.5 120.8,283.2 122.1,283.8 123.4,284.4 124.7,285.0 126.0,285.6 127.3,286.2 128.6,286.8 129.8,287.4 131.1,288.0 132.4,288.6 133.7,289.2 135.0,289.8 136.3,290.3 137.6,290.9 138.9,291.5 140.2,292.0 141.5,292.6 142.8,293.1 144.1,293.6 145.4,294.1 146.7,294.6 148.0,295.1 149.3,295.6 150.6,296.1 151.9,296.6 153.2,297.0 154.4,297.5 155.7,297.9 157.0,298.4 158.3,298.8 159.6,299.2 160.9,299.6 162.2,300.0 163.5,300.4 164.8,300.8 166.1,301.2 167.4,301.6 168.7,302.0 170.0,302.4 171.3,302.7 172.6,303.1 173.9,303.4 175.2,303.8 176.5,304.1 177.7,304.5 179.0,304.8 180.3,305.2 181.6,305.5 182.9,305.8 184.2,306.1 185.5,306.5 186.8,306.8 188.1,307.1 189.4,307.4 190.7,307.7 192.0,308.0 193.3,308.4 194.6,308.7 195.9,309.0 197.2,309.3 198.5,309.6 199.8,309.9 201.1,310.2 202.3,310.6 203.6,310.9 204.9,311.3 206.2,311.6 207.5,312.0 208.8,312.5 210.1,312.9 211.4,313.4 212.7,313.9 214.0,314.4 215.3,315.0 216.6,315.5 217.9,316.1 219.2,316.7 220.5,317.3 221.8,317.9 223.1,318.4 224.4,319.0 225.7,319.5 226.9,320.0 228.2,320.4 229.5,320.8 230.8,321.2 232.1,321.5 233.4,321.8 234.7,322.0 236.0,322.2 237.3,322.3 238.6,322.4 239.9,322.4 241.2,322.4 242.5,322.4 243.8,322.3 245.1,322.2 246.4,322.1 247.7,321.9 249.0,321.7 250.2,321.5 251.5,321.2 252.8,320.9 254.1,320.6 255.4,320.2 256.7,319.9 258.0,319.5 259.3,319.0 260.6,318.6 261.9,318.1 263.2,317.6 264.5,317.1 265.8,316.6 267.1,316.0 268.4,315.4 269.7,314.9 271.0,314.3 272.3,313.6 273.6,313.0 274.8,312.4 276.1,311.7 277.4,311.1 278.7,310.4 280.0,309.8 281.3,309.1 282.6,308.4 283.9,307.8 285.2,307.1 286.5,306.4 287.8,305.7 289.1,305.1 290.4,304.4 291.7,303.7 293.0,303.1 294.3,302.4 295.6,301.8 296.9,301.2 298.2,300.5 299.4,299.9 300.7,299.3 302.0,298.7 303.3,298.2 304.6,297.6 305.9,297.1 307.2,296.6 308.5,296.1 309.8,295.6 311.1,295.1 312.4,294.7 313.7,294.3 315.0,293.9 316.3,293.5 317.6,293.2 318.9,292.9 320.2,292.6" fill="none" stroke="none" marker-start="url(#m_m)" marker-mid="url(#m_m)" marker-end="url(#m_m)"/>
<polyline points="61.2,276.3 62.5,276.6 63.8,277.0 65.1,277.4 66.4,277.8 67.7,278.3 69.0,278.8 70.3,279.2 71.6,279.8 72.9,280.3 74.2,280.9 75.5,281.5 76.8,282.1 78.1,282.7 79.4,283.3 80.6,284.0 81.9,284.7 83.2,285.4 84.5,286.1 85.8,286.9 87.1,287.6 88.4,288.4 89.7,289.2 91.0,290.0 92.3,290.8 93.6,291.6 94.9,292.4 96.2,293.3 97.5,294.2 98.8,295.0 100.1,295.9 101.4,296.8 102.7,297.7 104.0,298.6 105.2,299.5 106.5,300.4 107.8,301.4 109.1,302.3 110.4,303.2 111.7,304.2 113.0,305.1 114.3,306.1 115.6,307.0 116.9,308.0 118.2,308.9 119.5,309.9 120.8,310.9 122.1,311.8 123.4,312.8 124.7,313.7 126.0,314.7 127.3,315.6 128.6,316.6 129.8,317.5 131.1,318.5 132.4,319.4 133.7,320.3 135.0,321.2 136.3,322.2 137.6,323.1 138.9,324.0 140.2,324.8 141.5,325.7 142.8,326.6 144.1,327.4 145.4,328.3 146.7,329.1 148.0,329.9 149.3,330.7 150.6,331.5 151.9,332.3 153.2,333.0 154.4,333.8 155.7,334.5 157.0,335.2 158.3,335.9 159.6,336.5 160.9,337.1 162.2,337.8 163.5,338.3 164.8,338.9 166.1,339.4 167.4,339.9 168.7,340.4 170.0,340.9 171.3,341.3 172.6,341.7 173.9,342.0 175.2,342.4 176.5,342.7 177.7,342.9 179.0,343.2 180.3,343.4 181.6,343.5 182.9,343.7 184.2,343.8 185.5,343.8 186.8,343.8 188.1,343.8 189.4,343.8 190.7,343.7 192.0,343.6 193.3,343.5 194.6,343.3 195.9,343.1 197.2,342.9 198.5,342.6 199.8,342.3 201.1,342.0 202.3,341.6 203.6,341.3 204.9,340.9 206.2,340.4 207.5,339.9 208.8,339.4 210.1,338.9 211.4,338.4 212.7,337.8 214.0,337.2 215.3,336.5 216.6,335.9 217.9,335.2 219.2,334.5 220.5,333.7 221.8,333.0 223.1,332.2 224.4,331.3 225.7,330.5 226.9,329.6 228.2,328.8 229.5,327.9 230.8,326.9 232.1,326.0 233.4,325.1 234.7,324.1 236.0,323.2 237.3,322.2 238.6,321.3 239.9,320.3 241.2,319.3 242.5,318.4 243.8,317.4 245.1,316.5 246.4,315.5 247.7,314.6 249.0,313.7 250.2,312.8 251.5,311.9 252.8,311.0 254.1,310.2 255.4,309.3 256.7,308.5 258.0,307.7 259.3,306.9 260.6,306.1 261.9,305.4 263.2,304.6 264.5,303.9 265.8,303.2 267.1,302.5 268.4,301.8 269.7,301.1 271.0,300.5 272.3,299.9 273.6,299.2 274.8,298.6 276.1,298.0 277.4,297.4 278.7,296.8 280.0,296.3 281.3,295.7 282.6,295.2 283.9,294.7 285.2,294.2 286.5,293.7 287.8,293.2 289.1,292.7 290.4,292.2 291.7,291.8 293.0,291.3 294.3,290.9 295.6,290.4 296.9,290.0 298.2,289.6 299.4,289.2 300.7,288.8 302.0,288.5 303.3,288.1 304.6,287.7 305.9,287.4 307.2,287.0 308.5,286.7 309.8,286.4 311.1,286.1 312.4,285.7 313.7,285.4 315.0,285.1 316.3,284.8 317.6,284.6 318.9,284.3 320.2,284.0" fill="none" stroke="none" marker-start="url(#m_g)" marker-mid="url(#m_g)" marker-end="url(#m_g)"/>
<polyline points="61.2,303.9 62.5,305.4 63.8,306.9 65.1,308.4 66.4,310.0 67.7,311.5 69.0,313.1 70.3,314.8 71.6,316.4 72.9,318.1 74.2,319.8 75.5,321.5 76.8,323.3 78.1,325.1 79.4,326.9 80.6,328.7 81.9,330.6 83.2,332.5 84.5,334.4 85.8,336.4 87.1,338.4 88.4,340.4 89.7,342.4 91.0,344.5 92.3,346.6 93.6,348.8 94.9,350.9 96.2,353.1 97.5,355.3 98.8,357.6 100.1,359.9 101.4,362.2 102.7,364.5 104.0,366.9 105.2,369.3 106.5,371.7 107.8,374.1 109.1,376.5 110.4,378.9 111.7,381.4 113.0,383.9 114.3,386.3 115.6,388.8 116.9,391.2 118.2,393.7 119.5,396.1 120.8,398.6 122.1,400.9 123.4,403.1 124.7,405.2 126.0,407.1 127.3,408.8 128.6,410.2 129.8,411.4 131.1,412.2 132.4,412.8 133.7,412.9 135.0,412.8 136.3,412.2 137.6,411.3 138.9,410.1 140.2,408.6 141.5,406.9 142.8,405.0 144.1,403.1 145.4,401.0 146.7,398.8 148.0,396.7 149.3,394.6 150.6,392.5 151.9,390.4 153.2,388.4 154.4,386.4 155.7,384.4 157.0,382.4 158.3,380.5 159.6,378.6 160.9,376.7 162.2,374.9 163.5,373.0 164.8,371.2 166.1,369.5 167.4,367.7 168.7,366.0 170.0,364.3 171.3,362.6 172.6,361.0 173.9,359.4 175.2,357.8 176.5,356.3 177.7,354.7 179.0,353.2 180.3,351.8 181.6,350.3 182.9,348.9 184.2,347.5 185.5,346.1 186.8,344.8 188.1,343.4 189.4,342.1 190.7,340.8 192.0,339.6 193.3,338.4 194.6,337.1 195.9,336.0 197.2,334.8 198.5,333.6 199.8,332.5 201.1,331.4 202.3,330.3 203.6,329.3 204.9,328.2 206.2,327.2 207.5,326.2 208.8,325.2 210.1,324.3 211.4,323.3 212.7,322.4 214.0,321.5 215.3,320.6 216.6,319.7 217.9,318.9 219.2,318.0 220.5,317.2 221.8,316.4 223.1,315.6 224.4,314.8 225.7,314.1 226.9,313.3 228.2,312.6 229.5,311.9 230.8,311.2 232.1,310.5 233.4,309.8 234.7,309.1 236.0,308.5 237.3,307.8 238.6,307.2 239.9,306.6 241.2,306.0 242.5,305.4 243.8,304.8 245.1,304.3 246.4,303.7 247.7,303.2 249.0,302.6 250.2,302.1 251.5,301.6 252.8,301.1 254.1,300.6 255.4,300.1 256.7,299.6 258.0,299.1 259.3,298.6 260.6,298.2 261.9,297.7 263.2,297.3 264.5,296.8 265.8,296.4 267.1,296.0 268.4,295.5 269.7,295.1 271.0,294.7 272.3,294.3 273.6,293.9 274.8,293.5 276.1,293.1 277.4,292.7 278.7,292.3 280.0,291.9 281.3,291.5 282.6,291.1 283.9,290.7 285.2,290.3 286.5,289.9 287.8,289.5 289.1,289.2 290.4,288.8 291.7,288.4 293.0,288.0 294.3,287.6 295.6,287.2 296.9,286.8 298.2,286.4 299.4,286.1 300.7,285.7 302.0,285.3 303.3,284.9 304.6,284.5 305.9,284.1 307.2,283.6 308.5,283.2 309.8,282.8 311.1,282.4 312.4,281.9 313.7,281.5 315.0,281.1 316.3,280.6 317.6,280.2 318.9,279.7 320.2,279.2" fill="none" stroke="none" marker-start="url(#m_n)" marker-mid="url(#m_n)" marker-end="url(#m_n)"/>
<polyline points="76.7,497.7 79.6,498.0 82.6,498.4 85.5,498.8 88.4,499.1 91.4,499.5 94.3,499.9 97.2,500.3 100.2,500.7 103.1,501.1 106.1,501.5 109.0,501.9 111.9,502.3 114.9,502.8 117.8,503.2 120.7,503.6 123.7,504.1 126.6,504.5 129.6,505.0 132.5,505.5 135.4,506.0 138.4,506.4 141.3,506.9 144.3,507.4 147.2,507.9 150.1,508.4 153.1,509.0 156.0,509.5 158.9,510.0 161.9,510.6 164.8,511.1 167.8,511.7 170.7,512.3 173.6,512.8 176.6,513.4 179.5,514.0 182.4,514.6 185.4,515.3 188.3,515.9 191.3,516.5 194.2,517.2 197.1,517.8 200.1,518.5 203.0,519.2 205.9,519.9 208.9,520.6 211.8,521.3 214.8,522.0 217.7,522.7 220.6,523.5 223.6,524.2 226.5,525.0 229.5,525.8 232.4,526.6 235.3,527.4 238.3,528.2 241.2,529.0 244.1,529.8 247.1,530.7 250.0,531.5 253.0,532.4 255.9,533.3 258.8,534.2 261.8,535.1 264.7,536.0 267.6,536.9 270.6,537.8 273.5,538.7 276.5,539.7 279.4,540.6 282.3,541.5 285.3,542.5 288.2,543.4 291.1,544.3 294.1,545.3 297.0,546.2 300.0,547.2 302.9,548.1 305.8,549.1 308.8,550.0 311.7,550.9 314.6,551.9 317.6,552.8 320.5,553.7 323.5,554.6 326.4,555.5 329.3,556.5 332.3,557.4 335.2,558.2 338.2,559.1 341.1,560.0 344.0,560.9 347.0,561.7 349.9,562.6 352.8,563.4 355.8,564.2 358.7,565.0 361.7,565.8 364.6,566.6 367.5,567.3 370.5,568.1 373.4,568.8 376.3,569.5 379.3,570.2 382.2,570.9 385.2,571.6 388.1,572.2 391.0,572.8 394.0,573.4 396.9,574.0 399.8,574.6 402.8,575.1 405.7,575.7 408.7,576.2 411.6,576.6 414.5,577.1 417.5,577.5 420.4,577.9 423.4,578.2 426.3,578.5 429.2,578.7 432.2,578.9 435.1,579.0 438.0,579.0 441.0,578.9 443.9,578.8 446.9,578.6 449.8,578.3 452.7,577.9 455.7,577.5 458.6,576.9 461.5,576.3 464.5,575.6 467.4,574.9 470.4,574.1 473.3,573.3 476.2,572.3 479.2,571.4 482.1,570.4 485.0,569.3 488.0,568.2 490.9,567.0 493.9,565.8 496.8,564.6 499.7,563.4 502.7,562.1 505.6,560.9 508.6,559.7 511.5,558.5 514.4,557.4 517.4,556.3 520.3,555.2 523.2,554.2 526.2,553.2 529.1,552.3 532.1,551.3 535.0,550.4 537.9,549.5 540.9,548.6 543.8,547.8 546.7,547.0 549.7,546.1 552.6,545.3 555.6,544.5 558.5,543.7 561.4,543.0 564.4,542.2 567.3,541.4 570.2,540.7 573.2,539.9 576.1,539.2 579.1,538.4 582.0,537.7 584.9,537.0 587.9,536.3 590.8,535.6 593.8,534.9 596.7,534.2 599.6,533.6 602.6,532.9 605.5,532.3 608.4,531.7 611.4,531.0 614.3,530.4 617.3,529.8 620.2,529.3 623.1,528.7 626.1,528.1 629.0,527.6 631.9,527.1 634.9,526.5 637.8,526.0 640.8,525.5 643.7,525.1 646.6,524.6 649.6,524.2 652.5,523.7 655.4,523.3 658.4,522.9 661.3,522.5 664.3,522.1" fill="none" stroke="none" marker-start="url(#e_k)" marker-mid="url(#e_k)" marker-end="url(#e_k)"/>
<polyline points="76.7,545.3 79.6,546.7 82.6,548.0 85.5,549.4 88.4,550.8 91.4,552.3 94.3,553.8 97.2,555.3 100.2,556.9 103.1,558.5 106.1,560.2 109.0,561.9 111.9,563.7 114.9,565.5 117.8,567.3 120.7,569.3 123.7,571.3 126.6,573.3 129.6,575.5 132.5,577.7 135.4,580.0 138.4,582.4 141.3,584.9 144.3,587.5 147.2,590.2 150.1,593.1 153.1,596.1 156.0,599.3 158.9,602.7 161.9,606.3 164.8,610.1 167.8,614.3 170.7,618.8 173.6,623.7 176.6,629.2 179.5,635.4 182.4,642.6 185.4,651.0 188.3,660.6 191.3,669.5 194.2,672.1 197.1,665.6 200.1,655.6 203.0,646.1 205.9,637.9 208.9,630.9 211.8,624.7 214.8,619.1 217.7,614.0 220.6,609.2 223.6,604.7 226.5,600.5 229.5,596.5 232.4,592.7 235.3,589.2 238.3,585.9 241.2,582.8 244.1,580.0 247.1,577.4 250.0,574.9 253.0,572.6 255.9,570.5 258.8,568.5 261.8,566.7 264.7,565.0 267.6,563.4 270.6,561.9 273.5,560.4 276.5,559.1 279.4,557.9 282.3,556.7 285.3,555.7 288.2,554.6 291.1,553.7 294.1,552.7 297.0,551.8 300.0,550.9 302.9,550.1 305.8,549.2 308.8,548.3 311.7,547.5 314.6,546.7 317.6,545.8 320.5,545.0 323.5,544.1 326.4,543.2 329.3,542.4 332.3,541.5 335.2,540.7 338.2,539.9 341.1,539.1 344.0,538.4 347.0,537.7 349.9,537.0 352.8,536.4 355.8,535.8 358.7,535.3 361.7,534.8 364.6,534.3 367.5,533.8 370.5,533.4 373.4,532.9 376.3,532.5 379.3,532.1 382.2,531.6 385.2,531.2 388.1,530.8 391.0,530.4 394.0,530.0 396.9,529.6 399.8,529.2 402.8,528.8 405.7,528.4 408.7,528.0 411.6,527.6 414.5,527.3 417.5,526.9 420.4,526.5 423.4,526.2 426.3,525.8 429.2,525.5 432.2,525.1 435.1,524.8 438.0,524.4 441.0,524.1 443.9,523.7 446.9,523.4 449.8,523.1 452.7,522.7 455.7,522.4 458.6,522.1 461.5,521.8 464.5,521.5 467.4,521.2 470.4,520.8 473.3,520.5 476.2,520.2 479.2,519.9 482.1,519.6 485.0,519.3 488.0,519.0 490.9,518.7 493.9,518.4 496.8,518.2 499.7,517.9 502.7,517.6 505.6,517.3 508.6,517.0 511.5,516.7 514.4,516.5 517.4,516.2 520.3,515.9 523.2,515.6 526.2,515.4 529.1,515.1 532.1,514.8 535.0,514.6 537.9,514.3 540.9,514.0 543.8,513.8 546.7,513.5 549.7,513.2 552.6,513.0 555.6,512.7 558.5,512.5 561.4,512.2 564.4,512.0 567.3,511.7 570.2,511.5 573.2,511.2 576.1,511.0 579.1,510.7 582.0,510.5 584.9,510.2 587.9,510.0 590.8,509.8 593.8,509.5 596.7,509.3 599.6,509.0 602.6,508.8 605.5,508.6 608.4,508.3 611.4,508.1 614.3,507.9 617.3,507.6 620.2,507.4 623.1,507.2 626.1,506.9 629.0,506.7 631.9,506.5 634.9,506.3 637.8,506.0 640.8,505.8 643.7,505.6 646.6,505.4 649.6,505.2 652.5,504.9 655.4,504.7 658.4,504.5 661.3,504.3 664.3,504.1" fill="none" stroke="none" marker-start="url(#e_r)" marker-mid="url(#e_r)" marker-end="url(#e_r)"/>
<polyline points="76.7,521.1 79.6,522.1 82.6,523.0 85.5,524.0 88.4,525.0 91.4,525.9 94.3,526.8 97.2,527.7 100.2,528.6 103.1,529.5 106.1,530.4 109.0,531.3 111.9,532.3 114.9,533.2 117.8,534.1 120.7,535.1 123.7,536.1 126.6,537.1 129.6,538.1 132.5,539.1 135.4,540.2 138.4,541.3 141.3,542.5 144.3,543.7 147.2,544.9 150.1,546.2 153.1,547.5 156.0,548.9 158.9,550.3 161.9,551.8 164.8,553.3 167.8,554.9 170.7,556.6 173.6,558.3 176.6,560.0 179.5,561.7 182.4,563.4 185.4,565.2 188.3,566.9 191.3,568.6 194.2,570.3 197.1,572.0 200.1,573.6 203.0,575.2 205.9,576.7 208.9,578.1 211.8,579.5 214.8,580.8 217.7,581.9 220.6,583.0 223.6,584.0 226.5,584.8 229.5,585.6 232.4,586.1 235.3,586.6 238.3,587.0 241.2,587.2 244.1,587.3 247.1,587.2 250.0,587.1 253.0,586.8 255.9,586.4 258.8,585.9 261.8,585.3 264.7,584.5 267.6,583.7 270.6,582.7 273.5,581.6 276.5,580.4 279.4,579.1 282.3,577.8 285.3,576.4 288.2,574.9 291.1,573.4 294.1,571.9 297.0,570.4 300.0,568.8 302.9,567.3 305.8,565.8 308.8,564.3 311.7,562.9 314.6,561.4 317.6,560.0 320.5,558.7 323.5,557.4 326.4,556.1 329.3,554.9 332.3,553.7 335.2,552.5 338.2,551.4 341.1,550.4 344.0,549.3 347.0,548.4 349.9,547.4 352.8,546.5 355.8,545.6 358.7,544.8 361.7,544.0 364.6,543.2 367.5,542.4 370.5,541.7 373.4,541.0 376.3,540.3 379.3,539.7 382.2,539.1 385.2,538.5 388.1,537.9 391.0,537.3 394.0,536.8 396.9,536.3 399.8,535.7 402.8,535.3 405.7,534.8 408.7,534.3 411.6,533.9 414.5,533.4 417.5,533.0 420.4,532.6 423.4,532.2 426.3,531.8 429.2,531.4 432.2,531.0 435.1,530.6 438.0,530.2 441.0,529.8 443.9,529.4 446.9,529.0 449.8,528.7 452.7,528.3 455.7,527.9 458.6,527.5 461.5,527.1 464.5,526.7 467.4,526.3 470.4,525.9 473.3,525.5 476.2,525.1 479.2,524.7 482.1,524.4 485.0,524.0 488.0,523.6 490.9,523.2 493.9,522.8 496.8,522.4 499.7,522.0 502.7,521.6 505.6,521.3 508.6,520.9 511.5,520.5 514.4,520.1 517.4,519.8 520.3,519.4 523.2,519.0 526.2,518.6 529.1,518.3 532.1,517.9 535.0,517.6 537.9,517.2 540.9,516.8 543.8,516.5 546.7,516.1 549.7,515.8 552.6,515.5 555.6,515.1 558.5,514.8 561.4,514.4 564.4,514.1 567.3,513.8 570.2,513.5 573.2,513.1 576.1,512.8 579.1,512.5 582.0,512.2 584.9,511.9 587.9,511.6 590.8,511.3 593.8,511.1 596.7,510.8 599.6,510.5 602.6,510.2 605.5,510.0 608.4,509.7 611.4,509.4 614.3,509.2 617.3,509.0 620.2,508.7 623.1,508.5 626.1,508.3 629.0,508.0 631.9,507.8 634.9,507.6 637.8,507.4 640.8,507.2 643.7,507.0 646.6,506.9 649.6,506.7 652.5,506.5 655.4,506.4 658.4,506.2 661.3,506.1 664.3,505.9" fill="none" stroke="none" marker-start="url(#e_b)" marker-mid="url(#e_b)" marker-end="url(#e_b)"/>
<path d="M46.50,201.00v-4.5M108.30,201.00v-4.5M170.10,201.00v-4.5M231.90,201.00v-4.5M293.70,201.00v-4.5M77.40,201.00v-2.5M139.20,201.00v-2.5M201.00,201.00v-2.5M262.80,201.00v-2.5M324.60,201.00v-2.5M46.50,11.30h4.5M46.50,90.30h4.5M46.50,169.30h4.5M46.50,50.80h2.5M46.50,129.80h2.5" stroke="#222222" stroke-width="1.1" fill="none"/>
<rect x="46.50" y="11.30" width="278.30" height="189.70" fill="none" stroke="#222222" stroke-width="1.3"/>
<text x="46.5" y="217.0" font-size="15" text-anchor="middle">8</text>
<text x="108.3" y="217.0" font-size="15" text-anchor="middle">9</text>
<text x="170.1" y="217.0" font-size="15" text-anchor="middle">10</text>
<text x="231.9" y="217.0" font-size="15" text-anchor="middle">11</text>
<text x="293.7" y="217.0" font-size="15" text-anchor="middle">12</text>
<text x="42.3" y="16.4" font-size="15" text-anchor="end">0</text>
<text x="42.3" y="95.4" font-size="15" text-anchor="end">-10</text>
<text x="42.3" y="174.4" font-size="15" text-anchor="end">-20</text>
<text x="185.7" y="232.5" font-size="15" text-anchor="middle">Frequency (GHz)</text>
<text transform="translate(15.3,115.4) rotate(-90)" font-size="15" text-anchor="middle">Reflection loss (dB)</text>
<text x="5.5" y="14.5" font-size="21" font-weight="bold" fill="#0e3d38">a</text>
<rect x="73.10" y="115.30" width="4.20" height="4.20" fill="#000000"/>
<text x="90.5" y="121.4" font-size="11.5" text-anchor="start">300 K</text>
<circle cx="75.20" cy="131.60" r="2.50" fill="#ff0000"/>
<text x="90.5" y="135.6" font-size="11.5" text-anchor="start">373 K</text>
<path d="M75.20,142.40L78.17,147.66L72.23,147.66Z" fill="#0000ff"/>
<text x="90.5" y="149.5" font-size="11.5" text-anchor="start">423 K</text>
<path d="M75.20,162.80L78.17,157.54L72.23,157.54Z" fill="#ff00ff"/>
<text x="90.5" y="163.7" font-size="11.5" text-anchor="start">473 K</text>
<path d="M75.20,170.45L78.45,173.70L75.20,176.95L71.95,173.70Z" fill="#008000"/>
<text x="90.5" y="177.7" font-size="11.5" text-anchor="start">573 K</text>
<path d="M72.09,187.70L77.36,184.73L77.36,190.67Z" fill="#000080"/>
<text x="90.5" y="191.7" font-size="11.5" text-anchor="start">673 K</text>
<path d="M220.30,165.00V201.00" stroke="#111" stroke-width="1.2" stroke-dasharray="4,2.5" fill="none"/>
<path d="M317.30,107.50V201.00" stroke="#111" stroke-width="1.2" stroke-dasharray="4,2.5" fill="none"/>
<path d="M224.30,188.50H313.30" stroke="#111" stroke-width="1.2" stroke-dasharray="4,2.5" fill="none"/>
<path d="M220.30,188.50l6,-2.3v4.6z M317.30,188.50l-6,-2.3v4.6z" fill="#111"/>
<text x="275.2" y="183.8" font-size="15" text-anchor="middle">1.6 GHz</text>
<path d="M394.80,200.40v-4.5M456.60,200.40v-4.5M518.40,200.40v-4.5M580.20,200.40v-4.5M642.00,200.40v-4.5M425.70,200.40v-2.5M487.50,200.40v-2.5M549.30,200.40v-2.5M611.10,200.40v-2.5M672.90,200.40v-2.5M394.80,9.60h4.5M394.80,52.00h4.5M394.80,94.40h4.5M394.80,136.80h4.5M394.80,179.20h4.5M394.80,30.80h2.5M394.80,73.20h2.5M394.80,115.60h2.5M394.80,158.00h2.5M394.80,200.40h2.5" stroke="#222222" stroke-width="1.1" fill="none"/>
<rect x="394.80" y="9.60" width="278.00" height="190.80" fill="none" stroke="#222222" stroke-width="1.3"/>
<text x="394.8" y="215.8" font-size="15" text-anchor="middle">8</text>
<text x="456.6" y="215.8" font-size="15" text-anchor="middle">9</text>
<text x="518.4" y="215.8" font-size="15" text-anchor="middle">10</text>
<text x="580.2" y="215.8" font-size="15" text-anchor="middle">11</text>
<text x="642.0" y="215.8" font-size="15" text-anchor="middle">12</text>
<text x="390.6" y="14.7" font-size="15" text-anchor="end">0</text>
<text x="390.6" y="57.1" font-size="15" text-anchor="end">-10</text>
<text x="390.6" y="99.5" font-size="15" text-anchor="end">-20</text>
<text x="390.6" y="141.9" font-size="15" text-anchor="end">-30</text>
<text x="390.6" y="184.3" font-size="15" text-anchor="end">-40</text>
<text x="533.8" y="233.5" font-size="15" text-anchor="middle">Frequency (GHz)</text>
<text transform="translate(363.5,114.2) rotate(-90)" font-size="15" text-anchor="middle">Reflection loss (dB)</text>
<text x="352.3" y="17.7" font-size="21" font-weight="bold" fill="#0e3d38">b</text>
<path d="M458.90,176.50V200.40" stroke="#111" stroke-width="1.2" stroke-dasharray="4,2.5" fill="none"/>
<path d="M653.00,59.60V200.40" stroke="#111" stroke-width="1.2" stroke-dasharray="4,2.5" fill="none"/>
<path d="M462.40,185.80H649.00" stroke="#111" stroke-width="1.2" stroke-dasharray="4,2.5" fill="none"/>
<path d="M458.40,185.80l6,-2.3v4.6z M653.00,185.80l-6,-2.3v4.6z" fill="#111"/>
<text x="569.7" y="174.5" font-size="15" text-anchor="middle">3.2 GHz</text>
<path d="M48.90,440.80v-4.5M110.55,440.80v-4.5M172.20,440.80v-4.5M233.85,440.80v-4.5M295.50,440.80v-4.5M79.72,440.80v-2.5M141.38,440.80v-2.5M203.03,440.80v-2.5M264.68,440.80v-2.5M326.32,440.80v-2.5M48.90,250.40h4.5M48.90,326.20h4.5M48.90,402.00h4.5M48.90,288.30h2.5M48.90,364.10h2.5M48.90,439.90h2.5" stroke="#222222" stroke-width="1.1" fill="none"/>
<rect x="48.90" y="250.40" width="277.30" height="190.40" fill="none" stroke="#222222" stroke-width="1.3"/>
<text x="48.9" y="456.3" font-size="15" text-anchor="middle">8</text>
<text x="110.5" y="456.3" font-size="15" text-anchor="middle">9</text>
<text x="172.2" y="456.3" font-size="15" text-anchor="middle">10</text>
<text x="233.8" y="456.3" font-size="15" text-anchor="middle">11</text>
<text x="295.5" y="456.3" font-size="15" text-anchor="middle">12</text>
<text x="44.7" y="255.5" font-size="15" text-anchor="end">0</text>
<text x="44.7" y="331.3" font-size="15" text-anchor="end">-10</text>
<text x="44.7" y="407.1" font-size="15" text-anchor="end">-20</text>
<text x="187.5" y="473.5" font-size="15" text-anchor="middle">Frequency (GHz)</text>
<text transform="translate(17.3,355) rotate(-90)" font-size="15" text-anchor="middle">Reflection loss (dB)</text>
<text x="8.3" y="255.7" font-size="21" font-weight="bold" fill="#0e3d38">c</text>
<path d="M134.90,415.00V440.80" stroke="#111" stroke-width="1.2" stroke-dasharray="4,2.5" fill="none"/>
<path d="M306.80,301.00V440.80" stroke="#111" stroke-width="1.2" stroke-dasharray="4,2.5" fill="none"/>
<path d="M138.90,427.00H302.80" stroke="#111" stroke-width="1.2" stroke-dasharray="4,2.5" fill="none"/>
<path d="M134.90,427.00l6,-2.3v4.6z M306.80,427.00l-6,-2.3v4.6z" fill="#111"/>
<text x="228.2" y="417.0" font-size="15" text-anchor="middle">2.8 GHz</text>
<rect x="413.40" y="382.96" width="19.30" height="57.04" fill="url(#gg)"/>
<rect x="413.40" y="382.96" width="19.30" height="57.04" fill="url(#hg)" stroke="#333" stroke-width="0.8"/>
<rect x="432.70" y="392.47" width="19.30" height="47.53" fill="#f22a2a"/>
<rect x="432.70" y="392.47" width="19.30" height="47.53" fill="url(#hk)" stroke="#3a0a0a" stroke-width="0.8"/>
<rect x="452.00" y="406.73" width="19.20" height="33.27" fill="#3a3af2"/>
<rect x="452.00" y="406.73" width="19.20" height="33.27" fill="url(#hb)" stroke="#15157a" stroke-width="0.8"/>
<rect x="502.90" y="359.20" width="19.20" height="80.80" fill="url(#gg)"/>
<rect x="502.90" y="359.20" width="19.20" height="80.80" fill="url(#hg)" stroke="#333" stroke-width="0.8"/>
<rect x="522.10" y="382.96" width="19.20" height="57.04" fill="#f22a2a"/>
<rect x="522.10" y="382.96" width="19.20" height="57.04" fill="url(#hk)" stroke="#3a0a0a" stroke-width="0.8"/>
<rect x="541.30" y="392.47" width="19.30" height="47.53" fill="#3a3af2"/>
<rect x="541.30" y="392.47" width="19.30" height="47.53" fill="url(#hb)" stroke="#15157a" stroke-width="0.8"/>
<rect x="605.90" y="349.69" width="19.30" height="90.31" fill="url(#gg)"/>
<rect x="605.90" y="349.69" width="19.30" height="90.31" fill="url(#hg)" stroke="#333" stroke-width="0.8"/>
<rect x="625.20" y="254.63" width="19.10" height="185.37" fill="#f22a2a"/>
<rect x="625.20" y="254.63" width="19.10" height="185.37" fill="url(#hk)" stroke="#3a0a0a" stroke-width="0.8"/>
<rect x="644.30" y="335.43" width="19.30" height="104.57" fill="#3a3af2"/>
<rect x="644.30" y="335.43" width="19.30" height="104.57" fill="url(#hb)" stroke="#15157a" stroke-width="0.8"/>
<path d="M428.60,440.0v-4.5M480.25,440.0v-4.5M531.90,440.0v-4.5M583.55,440.0v-4.5M635.20,440.0v-4.5M402.78,440.0v-2.5M454.43,440.0v-2.5M506.08,440.0v-2.5M557.73,440.0v-2.5M609.38,440.0v-2.5M396.2,440.00h4.5M396.2,392.47h4.5M396.2,344.94h4.5M396.2,297.41h4.5M396.2,249.88h4.5M396.2,416.24h2.5M396.2,368.70h2.5M396.2,321.18h2.5M396.2,273.64h2.5" stroke="#222222" stroke-width="1.1" fill="none"/>
<rect x="396.2" y="249.9" width="278.10" height="190.10" fill="none" stroke="#222222" stroke-width="1.3"/>
<text x="428.6" y="456.8" font-size="15" text-anchor="middle">273</text>
<text x="480.2" y="456.8" font-size="15" text-anchor="middle">373</text>
<text x="531.9" y="456.8" font-size="15" text-anchor="middle">473</text>
<text x="583.5" y="456.8" font-size="15" text-anchor="middle">573</text>
<text x="635.2" y="456.8" font-size="15" text-anchor="middle">673</text>
<text x="392.0" y="445.1" font-size="15" text-anchor="end">0</text>
<text x="392.0" y="397.6" font-size="15" text-anchor="end">-10</text>
<text x="392.0" y="350.0" font-size="15" text-anchor="end">-20</text>
<text x="392.0" y="302.5" font-size="15" text-anchor="end">-30</text>
<text x="392.0" y="255.0" font-size="15" text-anchor="end">-40</text>
<text x="535.0" y="471.5" font-size="15" text-anchor="middle">Temperature (K)</text>
<text transform="translate(364.3,343.2) rotate(-90)" font-size="15" text-anchor="middle">Min. Reflection loss (dB)</text>
<text x="350.5" y="254.0" font-size="21" font-weight="bold" fill="#0e3d38">d</text>
<rect x="406.3" y="260.2" width="20.4" height="10.2" fill="url(#gg)"/>
<rect x="406.3" y="260.2" width="20.4" height="10.2" fill="url(#hg)" stroke="#333" stroke-width="0.8"/>
<text x="430.0" y="268.8" font-size="11.4" text-anchor="start">BFO</text>
<rect x="406.3" y="274.5" width="20.4" height="10.2" fill="#f22a2a"/>
<rect x="406.3" y="274.5" width="20.4" height="10.2" fill="url(#hk)" stroke="#333" stroke-width="0.8"/>
<text x="430.0" y="283.1" font-size="11.4" text-anchor="start">La doped BFO</text>
<rect x="406.3" y="288.6" width="20.4" height="10.2" fill="#3a3af2"/>
<rect x="406.3" y="288.6" width="20.4" height="10.2" fill="url(#hb)" stroke="#333" stroke-width="0.8"/>
<text x="430.0" y="297.2" font-size="11.4" text-anchor="start">Nd doped BFO</text>
<path d="M48.7,583.6H678.5" stroke="#111" stroke-width="1.2" stroke-dasharray="5,3.5" fill="none"/>
<path d="M48.70,689.00v-5M188.60,689.00v-5M328.50,689.00v-5M468.40,689.00v-5M608.30,689.00v-5M118.65,689.00v-3M258.55,689.00v-3M398.45,689.00v-3M538.35,689.00v-3M678.25,689.00v-3M48.70,487.50h5M48.70,535.50h5M48.70,583.50h5M48.70,631.50h5M48.70,679.50h5M48.70,511.50h3M48.70,559.50h3M48.70,607.50h3M48.70,655.50h3" stroke="#222222" stroke-width="1.1" fill="none"/>
<rect x="48.70" y="487.50" width="629.80" height="201.50" fill="none" stroke="#222222" stroke-width="1.3"/>
<text x="48.7" y="705.7" font-size="15.6" text-anchor="middle">8</text>
<text x="188.6" y="705.7" font-size="15.6" text-anchor="middle">9</text>
<text x="328.5" y="705.7" font-size="15.6" text-anchor="middle">10</text>
<text x="468.4" y="705.7" font-size="15.6" text-anchor="middle">11</text>
<text x="608.3" y="705.7" font-size="15.6" text-anchor="middle">12</text>
<text x="42.5" y="490.8" font-size="15.6" text-anchor="end">0</text>
<text x="42.5" y="538.8" font-size="15.6" text-anchor="end">-10</text>
<text x="42.5" y="586.8" font-size="15.6" text-anchor="end">-20</text>
<text x="42.5" y="634.8" font-size="15.6" text-anchor="end">-30</text>
<text x="42.5" y="682.8" font-size="15.6" text-anchor="end">-40</text>
<text x="363.5" y="720.8" font-size="15.6" text-anchor="middle">Frequency (GHz)</text>
<text transform="translate(14.6,598.3) rotate(-90)" font-size="16.3" text-anchor="middle">Reflection loss (dB)</text>
<text x="5.8" y="495.5" font-size="21" font-weight="bold" fill="#0e3d38">e</text>
<rect x="447.00" y="618.80" width="8.00" height="8.00" fill="#000000"/>
<text x="472.5" y="628.2" font-size="15.6" text-anchor="start">BFO</text>
<circle cx="451.00" cy="642.70" r="4.70" fill="#ff0000"/>
<text x="472.5" y="648.1" font-size="15.6" text-anchor="start">La doped BFO</text>
<path d="M451.00,656.48L456.28,665.84L445.72,665.84Z" fill="#0000ff"/>
<text x="472.5" y="667.4" font-size="15.6" text-anchor="start">Nd doped BFO</text>
</svg></body></html>
